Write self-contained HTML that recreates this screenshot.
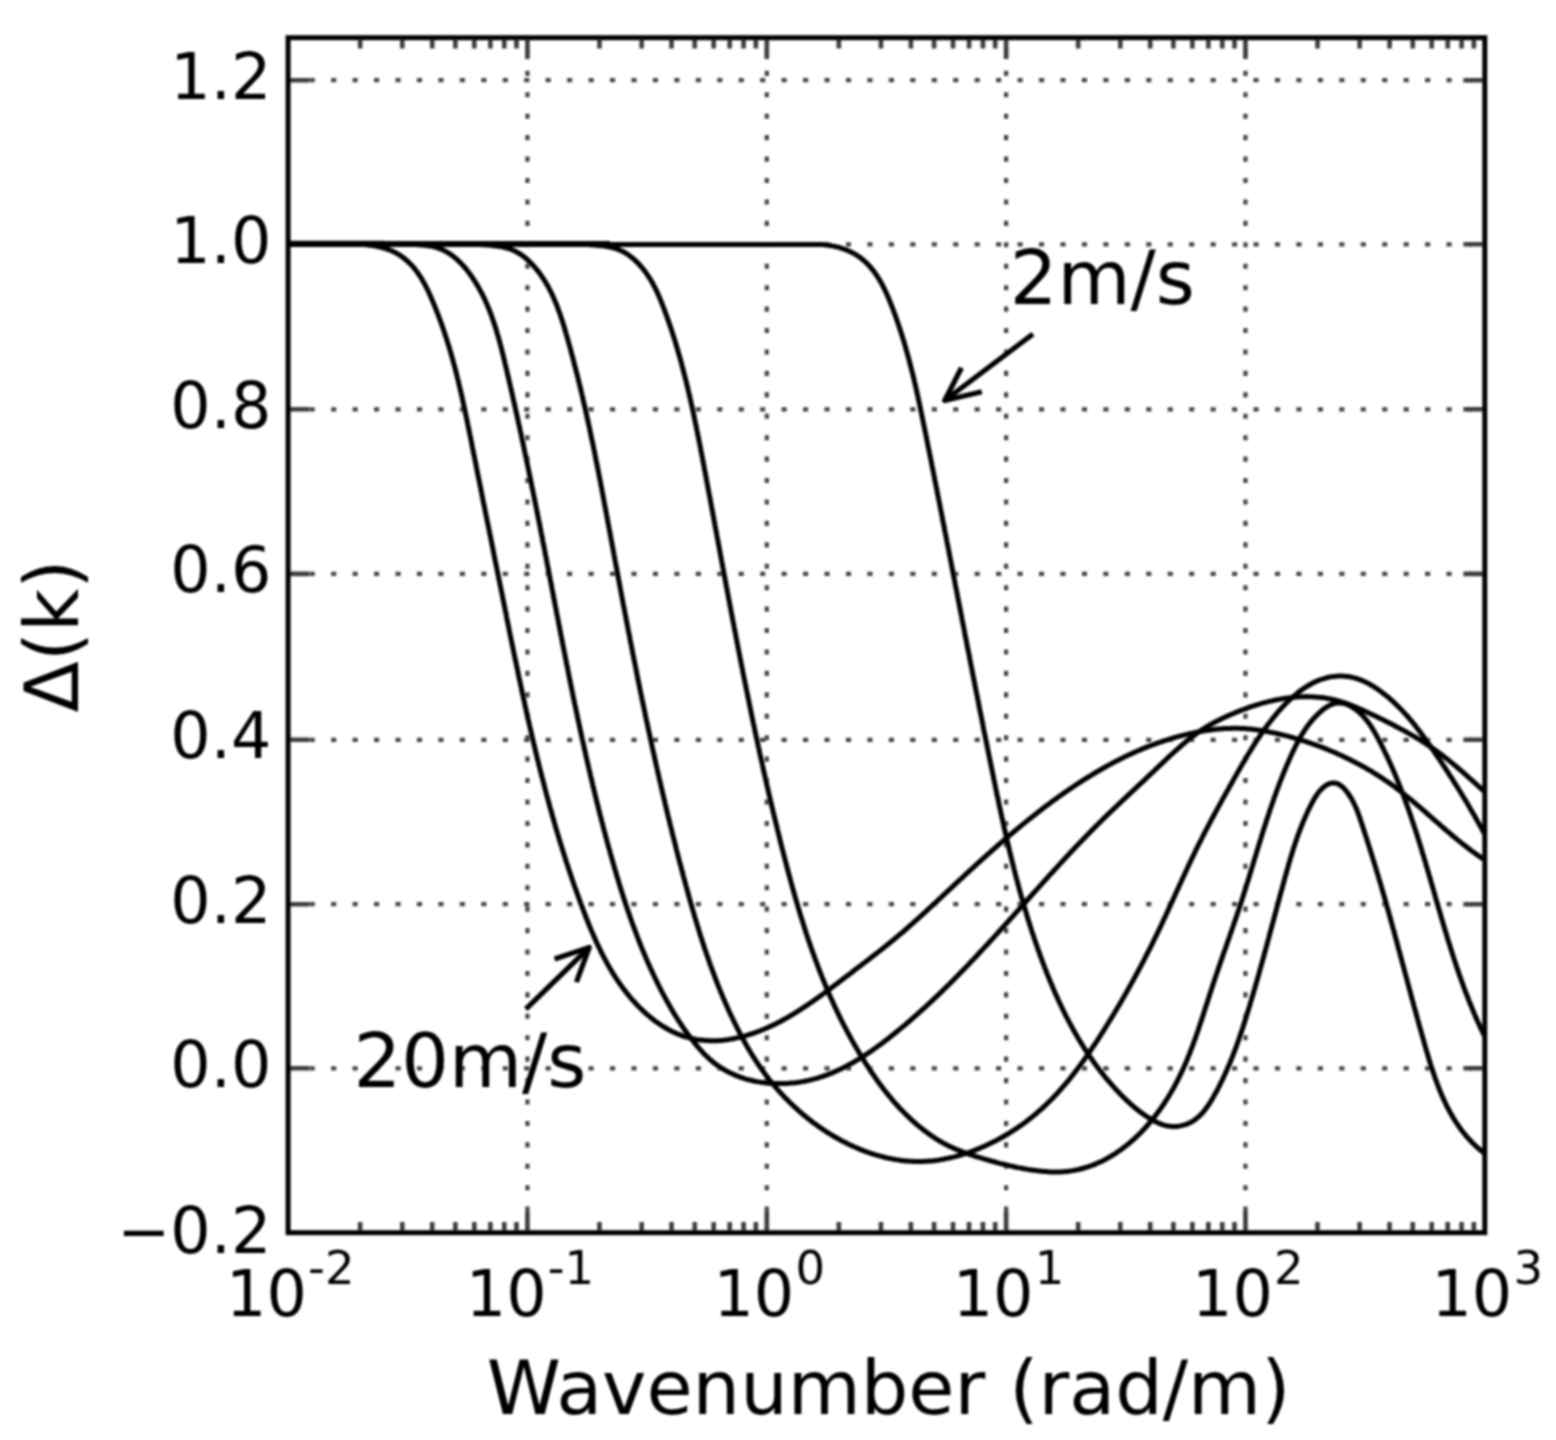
<!DOCTYPE html>
<html lang="en"><head><meta charset="utf-8"><title>&#916;(k) versus wavenumber</title>
<style>html,body{margin:0;padding:0;background:#fff}body{width:1556px;height:1440px;overflow:hidden}svg{display:block}text{font-family:"DejaVu Sans","Liberation Sans",sans-serif;fill:#000;stroke-linejoin:round}.tk{stroke:#000;stroke-width:0px}.an{stroke:#fff;stroke-width:0px}</style></head><body>
<svg width="1556" height="1440" viewBox="0 0 1556 1440">
<defs><filter id="soft" x="-2%" y="-2%" width="104%" height="104%"><feGaussianBlur stdDeviation="0.9"/></filter></defs>
<rect width="1556" height="1440" fill="#fff"/>
<g filter="url(#soft)">
<g stroke="#444" stroke-width="4.2" fill="none">
<g stroke-dasharray="5.1 16.35" stroke-dashoffset="-0.15">
<path d="M288.1 1068.3H1484.8"/>
<path d="M288.1 904.2H1484.8"/>
<path d="M288.1 739.8H1484.8"/>
<path d="M288.1 573.9H1484.8"/>
<path d="M288.1 409.3H1484.8"/>
<path d="M288.1 244.3H1484.8"/>
<path d="M288.1 80.2H1484.8"/>
</g>
<g stroke-dasharray="5.1 16.33" stroke-dashoffset="0.45">
<path d="M527.44 1232.7V37.7"/>
<path d="M766.78 1232.7V37.7"/>
<path d="M1006.12 1232.7V37.7"/>
<path d="M1245.46 1232.7V37.7"/>
</g>
</g>
<g stroke="#3c3c3c" stroke-width="4.6" fill="none">
<path d="M288.1 1068.3h21.4 M1484.8 1068.3h-21.4"/>
<path d="M288.1 904.2h21.4 M1484.8 904.2h-21.4"/>
<path d="M288.1 739.8h21.4 M1484.8 739.8h-21.4"/>
<path d="M288.1 573.9h21.4 M1484.8 573.9h-21.4"/>
<path d="M288.1 409.3h21.4 M1484.8 409.3h-21.4"/>
<path d="M288.1 244.3h21.4 M1484.8 244.3h-21.4"/>
<path d="M288.1 80.2h21.4 M1484.8 80.2h-21.4"/>
<path d="M360.15 1232.7v-10.7 M360.15 37.7v10.7"/>
<path d="M402.29 1232.7v-10.7 M402.29 37.7v10.7"/>
<path d="M432.2 1232.7v-10.7 M432.2 37.7v10.7"/>
<path d="M455.39 1232.7v-10.7 M455.39 37.7v10.7"/>
<path d="M474.34 1232.7v-10.7 M474.34 37.7v10.7"/>
<path d="M490.37 1232.7v-10.7 M490.37 37.7v10.7"/>
<path d="M504.25 1232.7v-10.7 M504.25 37.7v10.7"/>
<path d="M516.49 1232.7v-10.7 M516.49 37.7v10.7"/>
<path d="M527.44 1232.7v-21.4 M527.44 37.7v21.4"/>
<path d="M599.49 1232.7v-10.7 M599.49 37.7v10.7"/>
<path d="M641.63 1232.7v-10.7 M641.63 37.7v10.7"/>
<path d="M671.54 1232.7v-10.7 M671.54 37.7v10.7"/>
<path d="M694.73 1232.7v-10.7 M694.73 37.7v10.7"/>
<path d="M713.68 1232.7v-10.7 M713.68 37.7v10.7"/>
<path d="M729.71 1232.7v-10.7 M729.71 37.7v10.7"/>
<path d="M743.59 1232.7v-10.7 M743.59 37.7v10.7"/>
<path d="M755.83 1232.7v-10.7 M755.83 37.7v10.7"/>
<path d="M766.78 1232.7v-21.4 M766.78 37.7v21.4"/>
<path d="M838.83 1232.7v-10.7 M838.83 37.7v10.7"/>
<path d="M880.97 1232.7v-10.7 M880.97 37.7v10.7"/>
<path d="M910.88 1232.7v-10.7 M910.88 37.7v10.7"/>
<path d="M934.07 1232.7v-10.7 M934.07 37.7v10.7"/>
<path d="M953.02 1232.7v-10.7 M953.02 37.7v10.7"/>
<path d="M969.05 1232.7v-10.7 M969.05 37.7v10.7"/>
<path d="M982.93 1232.7v-10.7 M982.93 37.7v10.7"/>
<path d="M995.17 1232.7v-10.7 M995.17 37.7v10.7"/>
<path d="M1006.12 1232.7v-21.4 M1006.12 37.7v21.4"/>
<path d="M1078.17 1232.7v-10.7 M1078.17 37.7v10.7"/>
<path d="M1120.31 1232.7v-10.7 M1120.31 37.7v10.7"/>
<path d="M1150.22 1232.7v-10.7 M1150.22 37.7v10.7"/>
<path d="M1173.41 1232.7v-10.7 M1173.41 37.7v10.7"/>
<path d="M1192.36 1232.7v-10.7 M1192.36 37.7v10.7"/>
<path d="M1208.39 1232.7v-10.7 M1208.39 37.7v10.7"/>
<path d="M1222.27 1232.7v-10.7 M1222.27 37.7v10.7"/>
<path d="M1234.51 1232.7v-10.7 M1234.51 37.7v10.7"/>
<path d="M1245.46 1232.7v-21.4 M1245.46 37.7v21.4"/>
<path d="M1317.51 1232.7v-10.7 M1317.51 37.7v10.7"/>
<path d="M1359.65 1232.7v-10.7 M1359.65 37.7v10.7"/>
<path d="M1389.56 1232.7v-10.7 M1389.56 37.7v10.7"/>
<path d="M1412.75 1232.7v-10.7 M1412.75 37.7v10.7"/>
<path d="M1431.7 1232.7v-10.7 M1431.7 37.7v10.7"/>
<path d="M1447.73 1232.7v-10.7 M1447.73 37.7v10.7"/>
<path d="M1461.61 1232.7v-10.7 M1461.61 37.7v10.7"/>
<path d="M1473.85 1232.7v-10.7 M1473.85 37.7v10.7"/>
</g>
<g stroke="#000" stroke-width="5" fill="none" stroke-linejoin="round" stroke-linecap="butt" clip-path="none">
<path d="M288.1 243.9H610" stroke-width="5.6"/>
<path d="M288.1 243.9H500" stroke-width="6"/>
<path d="M288.1 243.9H385" stroke-width="6.4"/>
<path d="M288.1,244.5 290.1,244.5 292.1,244.5 294.1,244.5 296.1,244.5 298.1,244.5 300,244.5 302,244.5 304,244.5 306,244.5 308,244.5 310,244.5 312,244.5 314,244.5 316,244.5 318,244.5 320,244.5 322,244.5 324,244.5 326,244.5 328,244.5 330,244.5 332,244.5 334,244.5 336,244.5 338,244.5 340,244.5 342,244.5 344,244.5 346.1,244.5 348.1,244.5 350.1,244.5 352.1,244.5 354.1,244.5 356.2,244.5 358.2,244.5 360.2,244.5 362.3,244.5 364.3,244.6 366.3,244.8 368.3,245.1 370.3,245.3 372.3,245.6 374.3,245.9 376.3,246.2 378.2,246.6 380.2,247.1 382.1,247.5 384,248.1 385.9,248.6 387.7,249.3 389.6,250 391.4,250.7 393.1,251.5 394.9,252.3 396.6,253.3 398.3,254.2 399.9,255.3 401.5,256.4 403.1,257.5 404.6,258.7 406.1,260 407.6,261.3 409,262.6 410.4,264 411.8,265.4 413.1,266.9 414.4,268.4 415.6,270 416.8,271.5 418,273.2 419.1,274.8 420.2,276.5 421.3,278.2 422.3,279.9 423.3,281.7 424.3,283.5 425.3,285.3 426.2,287.1 427.1,288.9 428,290.8 428.9,292.6 429.7,294.5 430.6,296.4 431.4,298.3 432.2,300.2 433,302.1 433.8,304 434.6,305.8 435.3,307.7 436.1,309.6 436.8,311.5 437.6,313.4 438.3,315.3 439,317.2 439.7,319.1 440.4,321 441.1,322.9 441.8,324.8 442.5,326.7 443.1,328.6 443.8,330.5 444.4,332.4 445,334.4 445.7,336.3 446.3,338.2 446.9,340.1 447.5,342 448.1,343.9 448.7,345.8 449.3,347.7 449.8,349.6 450.4,351.6 451,353.5 451.5,355.4 452,357.3 452.6,359.2 453.1,361.2 453.6,363.1 454.2,365 454.7,366.9 455.2,368.8 455.7,370.8 456.2,372.7 456.7,374.6 457.1,376.5 457.6,378.5 458.1,380.4 458.6,382.3 459,384.3 459.5,386.2 459.9,388.1 460.4,390 460.8,392 461.3,393.9 461.7,395.9 462.2,397.8 462.6,399.7 463,401.7 463.4,403.6 463.9,405.5 464.3,407.5 464.7,409.4 465.1,411.4 465.5,413.3 465.9,415.2 466.3,417.2 466.7,419.1 467.1,421.1 467.5,423 467.9,424.9 468.3,426.9 468.7,428.8 469.1,430.8 469.5,432.7 469.9,434.7 470.3,436.6 470.7,438.6 471.1,440.5 471.5,442.5 471.9,444.4 472.2,446.4 472.6,448.3 473,450.3 473.4,452.2 473.8,454.2 474.2,456.1 474.6,458.1 475,460.1 475.4,462 475.8,464 476.2,465.9 476.5,467.9 476.9,469.8 477.3,471.8 477.7,473.8 478.1,475.7 478.5,477.7 478.9,479.6 479.3,481.6 479.7,483.6 480.1,485.5 480.5,487.5 480.9,489.4 481.3,491.4 481.7,493.4 482,495.3 482.4,497.3 482.8,499.3 483.2,501.2 483.6,503.2 484,505.1 484.4,507.1 484.8,509.1 485.2,511 485.6,513 486,515 486.4,516.9 486.8,518.9 487.2,520.9 487.6,522.8 488,524.8 488.4,526.8 488.8,528.7 489.2,530.7 489.6,532.7 490,534.6 490.4,536.6 490.8,538.6 491.2,540.5 491.6,542.5 492,544.5 492.4,546.4 492.8,548.4 493.2,550.4 493.5,552.3 493.9,554.3 494.3,556.3 494.7,558.2 495.1,560.2 495.5,562.2 495.9,564.1 496.3,566.1 496.7,568.1 497.1,570 497.5,572 497.9,574 498.3,575.9 498.7,577.9 499.1,579.9 499.5,581.8 499.9,583.8 500.3,585.8 500.7,587.7 501.1,589.7 501.5,591.7 501.9,593.6 502.3,595.6 502.7,597.6 503.1,599.5 503.5,601.5 503.9,603.5 504.3,605.4 504.7,607.4 505.1,609.4 505.5,611.3 505.9,613.3 506.3,615.2 506.6,617.2 507,619.2 507.4,621.1 507.8,623.1 508.2,625.1 508.6,627 509,629 509.4,630.9 509.8,632.9 510.2,634.9 510.6,636.8 511,638.8 511.4,640.7 511.8,642.7 512.2,644.7 512.6,646.6 513,648.6 513.4,650.5 513.8,652.5 514.2,654.4 514.6,656.4 515,658.4 515.5,660.3 515.9,662.3 516.3,664.2 516.7,666.2 517.1,668.1 517.5,670.1 517.9,672 518.3,674 518.7,675.9 519.1,677.9 519.5,679.9 520,681.8 520.4,683.8 520.8,685.7 521.2,687.7 521.6,689.6 522,691.6 522.5,693.5 522.9,695.5 523.3,697.4 523.7,699.4 524.2,701.3 524.6,703.3 525,705.2 525.4,707.2 525.9,709.1 526.3,711 526.7,713 527.2,714.9 527.6,716.9 528,718.8 528.5,720.8 528.9,722.7 529.4,724.7 529.8,726.6 530.3,728.5 530.7,730.5 531.2,732.4 531.6,734.4 532.1,736.3 532.5,738.3 533,740.2 533.4,742.1 533.9,744.1 534.3,746 534.8,747.9 535.3,749.9 535.7,751.8 536.2,753.8 536.7,755.7 537.1,757.6 537.6,759.6 538.1,761.5 538.6,763.4 539,765.4 539.5,767.3 540,769.2 540.5,771.2 541,773.1 541.5,775 542,777 542.5,778.9 543,780.8 543.5,782.7 544,784.7 544.5,786.6 545,788.5 545.5,790.5 546,792.4 546.5,794.3 547,796.2 547.5,798.2 548.1,800.1 548.6,802 549.1,803.9 549.6,805.9 550.2,807.8 550.7,809.7 551.2,811.6 551.8,813.5 552.3,815.5 552.9,817.4 553.4,819.3 554,821.2 554.5,823.1 555.1,825.1 555.6,827 556.2,828.9 556.8,830.8 557.3,832.7 557.9,834.6 558.5,836.5 559,838.5 559.6,840.4 560.2,842.3 560.8,844.2 561.4,846.1 562,848 562.6,849.9 563.2,851.8 563.8,853.7 564.4,855.6 565,857.5 565.6,859.5 566.2,861.4 566.8,863.3 567.5,865.2 568.1,867.1 568.7,869 569.3,870.9 570,872.8 570.6,874.7 571.3,876.6 571.9,878.5 572.6,880.4 573.2,882.3 573.9,884.2 574.5,886.1 575.2,888 575.9,889.9 576.5,891.7 577.2,893.6 577.9,895.5 578.6,897.4 579.3,899.3 580,901.2 580.6,903.1 581.3,905 582.1,906.9 582.8,908.8 583.5,910.7 584.2,912.5 584.9,914.4 585.6,916.3 586.4,918.2 587.1,920.1 587.9,921.9 588.6,923.8 589.4,925.7 590.1,927.5 590.9,929.4 591.7,931.2 592.5,933.1 593.3,934.9 594.1,936.8 594.9,938.6 595.7,940.5 596.5,942.3 597.4,944.1 598.2,945.9 599.1,947.7 600,949.5 600.8,951.3 601.7,953.1 602.6,954.9 603.6,956.7 604.5,958.5 605.4,960.2 606.4,962 607.3,963.7 608.3,965.5 609.3,967.2 610.3,968.9 611.3,970.6 612.3,972.3 613.4,974 614.4,975.7 615.5,977.4 616.6,979 617.7,980.7 618.8,982.3 620,984 621.1,985.6 622.3,987.2 623.5,988.8 624.7,990.4 625.9,991.9 627.1,993.5 628.4,995 629.6,996.6 630.9,998.1 632.2,999.6 633.5,1001.1 634.9,1002.5 636.2,1004 637.6,1005.5 639,1006.9 640.4,1008.3 641.9,1009.7 643.3,1011.1 644.8,1012.5 646.3,1013.8 647.8,1015.1 649.4,1016.4 650.9,1017.7 652.5,1019 654.1,1020.2 655.7,1021.4 657.3,1022.6 659,1023.7 660.6,1024.8 662.3,1025.9 664,1027 665.7,1028 667.5,1029 669.2,1030 671,1030.9 672.8,1031.8 674.5,1032.6 676.4,1033.4 678.2,1034.2 680,1034.9 681.9,1035.6 683.8,1036.3 685.7,1036.9 687.6,1037.4 689.5,1037.9 691.4,1038.4 693.4,1038.8 695.4,1039.2 697.3,1039.6 699.3,1039.9 701.3,1040.1 703.3,1040.3 705.3,1040.5 707.3,1040.6 709.3,1040.7 711.3,1040.8 713.3,1040.8 715.3,1040.7 717.3,1040.7 719.3,1040.5 721.3,1040.4 723.4,1040.2 725.4,1039.9 727.3,1039.7 729.3,1039.4 731.3,1039 733.3,1038.7 735.3,1038.3 737.2,1037.8 739.2,1037.4 741.1,1036.9 743.1,1036.4 745,1035.9 746.9,1035.3 748.8,1034.7 750.7,1034.1 752.6,1033.5 754.5,1032.9 756.4,1032.2 758.2,1031.5 760.1,1030.8 761.9,1030 763.8,1029.3 765.6,1028.5 767.4,1027.7 769.2,1026.9 771,1026.1 772.8,1025.2 774.6,1024.4 776.4,1023.5 778.1,1022.6 779.9,1021.7 781.7,1020.7 783.4,1019.8 785.2,1018.8 786.9,1017.8 788.6,1016.8 790.3,1015.8 792.1,1014.8 793.8,1013.8 795.5,1012.7 797.2,1011.7 798.9,1010.6 800.5,1009.5 802.2,1008.4 803.9,1007.3 805.6,1006.2 807.2,1005.1 808.9,1004 810.6,1002.8 812.2,1001.7 813.9,1000.6 815.5,999.4 817.1,998.2 818.8,997.1 820.4,995.9 822,994.7 823.7,993.5 825.3,992.3 826.9,991.1 828.5,989.9 830.1,988.7 831.8,987.5 833.4,986.3 835,985.1 836.6,983.9 838.2,982.7 839.8,981.4 841.4,980.2 843,979 844.6,977.8 846.2,976.6 847.8,975.4 849.4,974.2 851,973 852.6,971.8 854.1,970.5 855.7,969.3 857.3,968.1 858.9,966.9 860.5,965.7 862.1,964.5 863.7,963.3 865.2,962.1 866.8,960.9 868.4,959.7 870,958.5 871.5,957.2 873.1,956 874.7,954.8 876.3,953.6 877.8,952.4 879.4,951.1 880.9,949.9 882.5,948.7 884.1,947.4 885.6,946.2 887.2,945 888.7,943.7 890.2,942.5 891.8,941.2 893.3,939.9 894.9,938.7 896.4,937.4 897.9,936.1 899.4,934.8 901,933.6 902.5,932.3 904,931 905.5,929.7 907,928.3 908.5,927 910,925.7 911.5,924.4 913,923.1 914.5,921.7 916,920.4 917.5,919.1 919,917.7 920.5,916.4 922,915 923.5,913.7 924.9,912.3 926.4,911 927.9,909.6 929.4,908.2 930.9,906.9 932.3,905.5 933.8,904.1 935.3,902.8 936.8,901.4 938.2,900 939.7,898.7 941.2,897.3 942.6,895.9 944.1,894.5 945.6,893.2 947,891.8 948.5,890.4 950,889.1 951.4,887.7 952.9,886.3 954.4,884.9 955.8,883.6 957.3,882.2 958.8,880.8 960.2,879.5 961.7,878.1 963.2,876.8 964.6,875.4 966.1,874 967.6,872.7 969,871.3 970.5,870 972,868.6 973.5,867.3 974.9,865.9 976.4,864.6 977.9,863.2 979.4,861.9 980.8,860.6 982.3,859.2 983.8,857.9 985.3,856.6 986.8,855.2 988.3,853.9 989.8,852.6 991.2,851.3 992.7,849.9 994.2,848.6 995.7,847.3 997.2,846 998.7,844.7 1000.2,843.4 1001.7,842.1 1003.2,840.8 1004.8,839.5 1006.3,838.2 1007.8,836.9 1009.3,835.6 1010.8,834.3 1012.3,833 1013.9,831.7 1015.4,830.5 1016.9,829.2 1018.5,827.9 1020,826.7 1021.5,825.4 1023.1,824.1 1024.6,822.9 1026.2,821.6 1027.7,820.4 1029.3,819.1 1030.9,817.9 1032.4,816.6 1034,815.4 1035.6,814.2 1037.1,812.9 1038.7,811.7 1040.3,810.5 1041.9,809.3 1043.5,808 1045.1,806.8 1046.7,805.6 1048.3,804.4 1049.9,803.2 1051.5,802 1053.1,800.8 1054.8,799.6 1056.4,798.5 1058,797.3 1059.6,796.1 1061.3,795 1062.9,793.8 1064.6,792.6 1066.2,791.5 1067.9,790.4 1069.5,789.2 1071.2,788.1 1072.9,787 1074.5,785.9 1076.2,784.7 1077.9,783.6 1079.6,782.5 1081.3,781.5 1082.9,780.4 1084.6,779.3 1086.3,778.2 1088.1,777.2 1089.8,776.1 1091.5,775.1 1093.2,774 1094.9,773 1096.6,772 1098.4,771 1100.1,770 1101.8,769 1103.6,768 1105.3,767 1107.1,766 1108.8,765.1 1110.6,764.1 1112.4,763.2 1114.1,762.2 1115.9,761.3 1117.7,760.4 1119.5,759.5 1121.3,758.6 1123,757.7 1124.8,756.8 1126.6,756 1128.4,755.1 1130.3,754.3 1132.1,753.4 1133.9,752.6 1135.7,751.8 1137.5,751 1139.4,750.2 1141.2,749.4 1143,748.6 1144.9,747.9 1146.7,747.1 1148.6,746.4 1150.4,745.7 1152.3,745 1154.2,744.3 1156,743.6 1157.9,742.9 1159.8,742.3 1161.7,741.6 1163.6,741 1165.5,740.4 1167.4,739.8 1169.3,739.2 1171.2,738.6 1173.1,738 1175,737.4 1176.9,736.9 1178.8,736.4 1180.8,735.9 1182.7,735.4 1184.6,734.9 1186.6,734.4 1188.5,734 1190.5,733.5 1192.5,733.1 1194.4,732.7 1196.4,732.3 1198.4,731.9 1200.3,731.5 1202.3,731.2 1204.3,730.9 1206.3,730.5 1208.3,730.3 1210.2,730 1212.2,729.7 1214.2,729.5 1216.2,729.3 1218.2,729.1 1220.2,728.9 1222.2,728.7 1224.2,728.6 1226.2,728.5 1228.2,728.4 1230.2,728.4 1232.2,728.3 1234.2,728.3 1236.2,728.3 1238.2,728.3 1240.2,728.4 1242.2,728.5 1244.2,728.6 1246.2,728.7 1248.2,728.9 1250.1,729.1 1252.1,729.3 1254.1,729.5 1256.1,729.8 1258.1,730 1260.1,730.3 1262,730.6 1264,731 1266,731.3 1267.9,731.7 1269.9,732.1 1271.9,732.5 1273.8,732.9 1275.8,733.3 1277.7,733.7 1279.7,734.2 1281.6,734.7 1283.6,735.1 1285.5,735.6 1287.5,736.1 1289.4,736.6 1291.3,737.2 1293.3,737.7 1295.2,738.3 1297.1,738.8 1299,739.4 1300.9,740 1302.8,740.6 1304.7,741.2 1306.6,741.8 1308.5,742.5 1310.4,743.1 1312.3,743.8 1314.2,744.4 1316.1,745.1 1318,745.8 1319.9,746.5 1321.7,747.2 1323.6,747.9 1325.4,748.7 1327.3,749.4 1329.2,750.2 1331,751 1332.8,751.7 1334.7,752.5 1336.5,753.3 1338.3,754.2 1340.2,755 1342,755.8 1343.8,756.7 1345.6,757.5 1347.4,758.4 1349.2,759.3 1351,760.2 1352.8,761.1 1354.5,762 1356.3,762.9 1358.1,763.9 1359.8,764.8 1361.6,765.8 1363.4,766.7 1365.1,767.7 1366.8,768.7 1368.6,769.7 1370.3,770.7 1372,771.7 1373.7,772.8 1375.4,773.8 1377.1,774.9 1378.8,776 1380.5,777 1382.1,778.1 1383.8,779.2 1385.4,780.4 1387.1,781.5 1388.7,782.6 1390.4,783.8 1392,784.9 1393.6,786.1 1395.2,787.3 1396.8,788.5 1398.4,789.7 1400,790.9 1401.5,792.1 1403.1,793.4 1404.7,794.6 1406.2,795.9 1407.8,797.1 1409.3,798.4 1410.9,799.7 1412.4,800.9 1413.9,802.2 1415.5,803.5 1417,804.8 1418.5,806.1 1420,807.4 1421.5,808.7 1423,810 1424.6,811.3 1426.1,812.7 1427.6,814 1429.1,815.3 1430.6,816.6 1432.1,817.9 1433.6,819.3 1435.1,820.6 1436.6,821.9 1438.1,823.2 1439.6,824.5 1441.1,825.9 1442.6,827.2 1444.1,828.5 1445.7,829.8 1447.2,831.1 1448.7,832.4 1450.2,833.7 1451.7,835 1453.3,836.3 1454.8,837.6 1456.4,838.8 1457.9,840.1 1459.5,841.4 1461,842.6 1462.6,843.9 1464.1,845.1 1465.7,846.3 1467.3,847.6 1468.9,848.8 1470.5,850 1472.1,851.2 1473.7,852.3 1475.3,853.5 1476.9,854.7 1478.6,855.8 1480.2,856.9 1481.9,858.1 1483.6,859.2"/>
<path d="M290.1,244.5 292.1,244.5 294.1,244.5 296.1,244.5 298.1,244.5 300.1,244.5 302.1,244.5 304.1,244.5 306.1,244.5 308.1,244.5 310.1,244.5 312.1,244.5 314.1,244.5 316.1,244.5 318.1,244.5 320.1,244.5 322.1,244.5 324.1,244.5 326.1,244.5 328.1,244.5 330.1,244.5 332.1,244.5 334.1,244.5 336.1,244.5 338.1,244.5 340.1,244.5 342.1,244.5 344.1,244.5 346.1,244.5 348.1,244.5 350.1,244.5 352.1,244.5 354.1,244.5 356.1,244.5 358.1,244.5 360.1,244.5 362.1,244.5 364.1,244.5 366.1,244.5 368.1,244.5 370,244.5 372,244.5 374,244.5 376,244.5 378,244.5 380,244.5 382,244.5 384,244.5 386,244.5 388,244.5 390,244.5 392,244.5 394,244.5 396,244.5 398,244.5 400.1,244.5 402.1,244.5 404.1,244.5 406.1,244.5 408.1,244.5 410.1,244.5 412.1,244.5 414.2,244.6 416.2,244.6 418.2,244.8 420.2,244.9 422.3,245.1 424.3,245.3 426.3,245.5 428.4,245.7 430.4,246 432.3,246.4 434.3,246.9 436.2,247.4 438.1,248 439.9,248.6 441.7,249.4 443.5,250.2 445.2,251.1 446.9,252 448.6,253.1 450.2,254.1 451.8,255.3 453.4,256.4 454.9,257.7 456.4,258.9 457.9,260.3 459.3,261.6 460.7,263.1 462.1,264.5 463.5,266 464.8,267.5 466.1,269 467.3,270.6 468.6,272.2 469.8,273.8 470.9,275.5 472.1,277.1 473.2,278.8 474.3,280.5 475.4,282.2 476.4,283.9 477.5,285.6 478.5,287.3 479.5,289.1 480.4,290.8 481.3,292.6 482.3,294.3 483.1,296.1 484,297.9 484.9,299.7 485.7,301.5 486.5,303.3 487.3,305.2 488.1,307 488.8,308.8 489.6,310.7 490.3,312.5 491,314.4 491.7,316.3 492.3,318.1 493,320 493.6,321.9 494.3,323.8 494.9,325.7 495.5,327.6 496.1,329.5 496.7,331.4 497.2,333.4 497.8,335.3 498.4,337.2 498.9,339.1 499.4,341.1 500,343 500.5,345 501,346.9 501.5,348.9 502,350.8 502.5,352.8 503,354.7 503.4,356.7 503.9,358.6 504.4,360.6 504.8,362.5 505.3,364.5 505.8,366.5 506.2,368.4 506.7,370.4 507.2,372.4 507.6,374.3 508.1,376.3 508.5,378.2 509,380.2 509.4,382.1 509.9,384.1 510.3,386.1 510.8,388 511.2,390 511.7,391.9 512.1,393.9 512.6,395.9 513,397.8 513.4,399.8 513.9,401.7 514.3,403.7 514.8,405.7 515.2,407.6 515.6,409.6 516.1,411.5 516.5,413.5 516.9,415.4 517.4,417.4 517.8,419.4 518.2,421.3 518.6,423.3 519.1,425.2 519.5,427.2 519.9,429.1 520.3,431.1 520.8,433.1 521.2,435 521.6,437 522,438.9 522.4,440.9 522.9,442.8 523.3,444.8 523.7,446.8 524.1,448.7 524.5,450.7 524.9,452.6 525.3,454.6 525.8,456.5 526.2,458.5 526.6,460.5 527,462.4 527.4,464.4 527.8,466.3 528.2,468.3 528.6,470.2 529,472.2 529.4,474.2 529.8,476.1 530.2,478.1 530.6,480 531,482 531.4,483.9 531.8,485.9 532.2,487.9 532.6,489.8 533,491.8 533.4,493.7 533.8,495.7 534.2,497.6 534.6,499.6 535,501.5 535.4,503.5 535.8,505.5 536.2,507.4 536.6,509.4 537,511.3 537.3,513.3 537.7,515.2 538.1,517.2 538.5,519.2 538.9,521.1 539.3,523.1 539.7,525 540.1,527 540.4,529 540.8,530.9 541.2,532.9 541.6,534.8 542,536.8 542.4,538.7 542.7,540.7 543.1,542.7 543.5,544.6 543.9,546.6 544.3,548.5 544.7,550.5 545,552.5 545.4,554.4 545.8,556.4 546.2,558.3 546.6,560.3 546.9,562.2 547.3,564.2 547.7,566.2 548.1,568.1 548.4,570.1 548.8,572 549.2,574 549.6,576 550,577.9 550.3,579.9 550.7,581.8 551.1,583.8 551.5,585.8 551.8,587.7 552.2,589.7 552.6,591.6 553,593.6 553.3,595.6 553.7,597.5 554.1,599.5 554.5,601.5 554.9,603.4 555.2,605.4 555.6,607.3 556,609.3 556.4,611.3 556.7,613.2 557.1,615.2 557.5,617.1 557.9,619.1 558.3,621.1 558.6,623 559,625 559.4,626.9 559.8,628.9 560.2,630.9 560.5,632.8 560.9,634.8 561.3,636.7 561.7,638.7 562.1,640.7 562.4,642.6 562.8,644.6 563.2,646.5 563.6,648.5 564,650.5 564.4,652.4 564.8,654.4 565.1,656.3 565.5,658.3 565.9,660.3 566.3,662.2 566.7,664.2 567.1,666.1 567.5,668.1 567.9,670.1 568.3,672 568.6,674 569,675.9 569.4,677.9 569.8,679.8 570.2,681.8 570.6,683.8 571,685.7 571.4,687.7 571.8,689.6 572.2,691.6 572.6,693.5 573,695.5 573.4,697.5 573.8,699.4 574.2,701.4 574.6,703.3 575,705.3 575.5,707.2 575.9,709.2 576.3,711.2 576.7,713.1 577.1,715.1 577.5,717 577.9,719 578.3,720.9 578.8,722.9 579.2,724.8 579.6,726.8 580,728.8 580.4,730.7 580.9,732.7 581.3,734.6 581.7,736.6 582.1,738.5 582.6,740.5 583,742.4 583.4,744.4 583.9,746.3 584.3,748.3 584.7,750.2 585.2,752.2 585.6,754.1 586,756.1 586.5,758 586.9,760 587.4,761.9 587.8,763.9 588.3,765.8 588.7,767.8 589.2,769.7 589.6,771.7 590.1,773.6 590.5,775.6 591,777.5 591.4,779.5 591.9,781.4 592.4,783.4 592.8,785.3 593.3,787.3 593.8,789.2 594.2,791.2 594.7,793.1 595.2,795 595.7,797 596.1,798.9 596.6,800.9 597.1,802.8 597.6,804.8 598.1,806.7 598.5,808.7 599,810.6 599.5,812.5 600,814.5 600.5,816.4 601,818.4 601.5,820.3 602,822.2 602.5,824.2 603,826.1 603.5,828.1 604,830 604.6,831.9 605.1,833.9 605.6,835.8 606.1,837.8 606.6,839.7 607.1,841.6 607.7,843.6 608.2,845.5 608.7,847.4 609.3,849.4 609.8,851.3 610.3,853.2 610.9,855.2 611.4,857.1 612,859 612.5,861 613.1,862.9 613.6,864.8 614.2,866.7 614.7,868.7 615.3,870.6 615.9,872.5 616.4,874.5 617,876.4 617.6,878.3 618.2,880.2 618.7,882.1 619.3,884.1 619.9,886 620.5,887.9 621.1,889.8 621.7,891.7 622.3,893.6 622.9,895.5 623.5,897.4 624.2,899.4 624.8,901.3 625.4,903.2 626,905.1 626.7,907 627.3,908.9 628,910.8 628.6,912.7 629.3,914.5 629.9,916.4 630.6,918.3 631.2,920.2 631.9,922.1 632.6,924 633.3,925.9 634,927.7 634.7,929.6 635.4,931.5 636.1,933.3 636.8,935.2 637.5,937.1 638.2,938.9 638.9,940.8 639.7,942.7 640.4,944.5 641.1,946.4 641.9,948.2 642.6,950 643.4,951.9 644.2,953.7 645,955.6 645.7,957.4 646.5,959.2 647.3,961.1 648.1,962.9 648.9,964.7 649.7,966.5 650.5,968.3 651.4,970.1 652.2,971.9 653,973.7 653.9,975.5 654.7,977.3 655.6,979.1 656.5,980.9 657.3,982.7 658.2,984.5 659.1,986.3 660,988 660.9,989.8 661.8,991.6 662.7,993.3 663.7,995.1 664.6,996.8 665.5,998.6 666.5,1000.3 667.4,1002.1 668.4,1003.8 669.4,1005.5 670.4,1007.3 671.4,1009 672.4,1010.7 673.4,1012.4 674.4,1014.1 675.5,1015.8 676.5,1017.5 677.6,1019.2 678.7,1020.9 679.8,1022.5 680.9,1024.2 682,1025.9 683.1,1027.5 684.2,1029.2 685.4,1030.8 686.6,1032.5 687.8,1034.1 689,1035.7 690.2,1037.3 691.4,1038.9 692.7,1040.5 693.9,1042.1 695.2,1043.7 696.5,1045.3 697.8,1046.8 699.1,1048.4 700.5,1049.9 701.9,1051.4 703.2,1052.9 704.7,1054.4 706.1,1055.8 707.6,1057.2 709,1058.6 710.5,1059.9 712.1,1061.2 713.6,1062.5 715.2,1063.7 716.8,1064.9 718.4,1066 720.1,1067.1 721.7,1068.2 723.4,1069.2 725.1,1070.2 726.9,1071.2 728.6,1072.1 730.4,1073 732.2,1073.8 734,1074.6 735.8,1075.4 737.7,1076.2 739.5,1076.9 741.4,1077.5 743.3,1078.2 745.2,1078.8 747.1,1079.3 749,1079.8 751,1080.3 752.9,1080.8 754.9,1081.2 756.8,1081.6 758.8,1081.9 760.8,1082.3 762.8,1082.5 764.7,1082.8 766.7,1083 768.7,1083.2 770.8,1083.4 772.8,1083.5 774.8,1083.6 776.8,1083.6 778.8,1083.6 780.8,1083.6 782.8,1083.6 784.9,1083.5 786.9,1083.4 788.9,1083.3 790.9,1083.1 792.9,1083 794.9,1082.7 796.9,1082.5 798.9,1082.2 800.9,1081.9 802.8,1081.5 804.8,1081.2 806.8,1080.8 808.7,1080.4 810.7,1079.9 812.6,1079.4 814.5,1078.9 816.4,1078.4 818.3,1077.8 820.2,1077.2 822.1,1076.6 824,1076 825.8,1075.3 827.7,1074.6 829.5,1073.9 831.4,1073.2 833.2,1072.4 835,1071.6 836.8,1070.8 838.6,1070 840.4,1069.2 842.2,1068.3 844,1067.4 845.7,1066.5 847.5,1065.6 849.2,1064.6 851,1063.7 852.7,1062.7 854.5,1061.7 856.2,1060.7 857.9,1059.7 859.6,1058.6 861.3,1057.6 863,1056.5 864.7,1055.4 866.4,1054.3 868,1053.2 869.7,1052.1 871.4,1051 873,1049.8 874.6,1048.6 876.3,1047.5 877.9,1046.3 879.5,1045.1 881.2,1043.9 882.8,1042.7 884.4,1041.5 886,1040.2 887.6,1039 889.2,1037.8 890.8,1036.5 892.3,1035.3 893.9,1034 895.5,1032.7 897,1031.5 898.6,1030.2 900.2,1028.9 901.7,1027.6 903.3,1026.4 904.8,1025.1 906.3,1023.8 907.9,1022.5 909.4,1021.2 910.9,1019.8 912.4,1018.5 913.9,1017.2 915.4,1015.9 916.9,1014.6 918.4,1013.2 919.9,1011.9 921.4,1010.5 922.9,1009.2 924.4,1007.9 925.9,1006.5 927.3,1005.1 928.8,1003.8 930.3,1002.4 931.7,1001.1 933.2,999.7 934.6,998.3 936.1,996.9 937.5,995.6 939,994.2 940.4,992.8 941.9,991.4 943.3,990 944.7,988.6 946.1,987.2 947.6,985.8 949,984.4 950.4,983 951.8,981.6 953.2,980.2 954.6,978.7 956,977.3 957.4,975.9 958.8,974.5 960.2,973 961.6,971.6 963,970.2 964.4,968.7 965.8,967.3 967.2,965.9 968.6,964.4 969.9,963 971.3,961.5 972.7,960.1 974.1,958.6 975.4,957.2 976.8,955.7 978.2,954.2 979.5,952.8 980.9,951.3 982.2,949.9 983.6,948.4 985,946.9 986.3,945.5 987.7,944 989,942.5 990.4,941.1 991.7,939.6 993.1,938.1 994.4,936.6 995.8,935.1 997.1,933.7 998.4,932.2 999.8,930.7 1001.1,929.2 1002.5,927.7 1003.8,926.3 1005.1,924.8 1006.5,923.3 1007.8,921.8 1009.2,920.3 1010.5,918.8 1011.8,917.4 1013.2,915.9 1014.5,914.4 1015.8,912.9 1017.2,911.4 1018.5,909.9 1019.8,908.4 1021.2,906.9 1022.5,905.4 1023.8,904 1025.2,902.5 1026.5,901 1027.8,899.5 1029.1,898 1030.5,896.5 1031.8,895 1033.1,893.5 1034.5,892 1035.8,890.6 1037.1,889.1 1038.5,887.6 1039.8,886.1 1041.2,884.6 1042.5,883.1 1043.8,881.6 1045.2,880.2 1046.5,878.7 1047.9,877.2 1049.2,875.7 1050.5,874.2 1051.9,872.8 1053.2,871.3 1054.6,869.8 1055.9,868.3 1057.3,866.9 1058.6,865.4 1060,863.9 1061.3,862.4 1062.7,861 1064,859.5 1065.4,858 1066.8,856.6 1068.1,855.1 1069.5,853.7 1070.8,852.2 1072.2,850.7 1073.6,849.3 1075,847.8 1076.3,846.4 1077.7,844.9 1079.1,843.5 1080.5,842.1 1081.8,840.6 1083.2,839.2 1084.6,837.7 1086,836.3 1087.4,834.9 1088.8,833.4 1090.2,832 1091.6,830.6 1093,829.2 1094.4,827.8 1095.8,826.3 1097.2,824.9 1098.6,823.5 1100.1,822.1 1101.5,820.7 1102.9,819.3 1104.3,817.9 1105.8,816.5 1107.2,815.1 1108.6,813.7 1110.1,812.3 1111.5,811 1113,809.6 1114.4,808.2 1115.9,806.8 1117.3,805.4 1118.8,804.1 1120.2,802.7 1121.7,801.3 1123.1,799.9 1124.6,798.6 1126.1,797.2 1127.5,795.8 1129,794.5 1130.4,793.1 1131.9,791.7 1133.4,790.3 1134.8,789 1136.3,787.6 1137.8,786.2 1139.2,784.9 1140.7,783.5 1142.2,782.1 1143.6,780.8 1145.1,779.4 1146.6,778 1148,776.6 1149.5,775.2 1150.9,773.9 1152.4,772.5 1153.9,771.1 1155.3,769.7 1156.8,768.3 1158.2,766.9 1159.7,765.5 1161.2,764.2 1162.6,762.8 1164.1,761.4 1165.5,760 1167,758.6 1168.5,757.2 1169.9,755.9 1171.4,754.5 1172.9,753.1 1174.4,751.8 1175.9,750.4 1177.4,749.1 1178.9,747.8 1180.4,746.5 1181.9,745.2 1183.4,743.9 1184.9,742.6 1186.4,741.3 1188,740.1 1189.5,738.8 1191.1,737.6 1192.7,736.4 1194.3,735.2 1195.8,734 1197.5,732.9 1199.1,731.7 1200.7,730.6 1202.3,729.5 1204,728.5 1205.7,727.4 1207.3,726.4 1209,725.4 1210.7,724.4 1212.5,723.5 1214.2,722.5 1215.9,721.6 1217.7,720.7 1219.5,719.8 1221.3,718.9 1223,718.1 1224.8,717.2 1226.7,716.4 1228.5,715.6 1230.3,714.8 1232.1,714 1234,713.2 1235.9,712.4 1237.7,711.7 1239.6,710.9 1241.5,710.2 1243.4,709.5 1245.3,708.8 1247.2,708.1 1249.1,707.4 1251,706.7 1252.9,706.1 1254.8,705.5 1256.8,704.9 1258.7,704.3 1260.7,703.7 1262.6,703.2 1264.6,702.6 1266.5,702.1 1268.5,701.6 1270.4,701.1 1272.4,700.7 1274.4,700.2 1276.4,699.8 1278.3,699.5 1280.3,699.1 1282.3,698.7 1284.3,698.4 1286.3,698.1 1288.3,697.9 1290.2,697.6 1292.2,697.4 1294.2,697.2 1296.2,697 1298.2,696.9 1300.2,696.8 1302.2,696.7 1304.1,696.7 1306.1,696.6 1308.1,696.7 1310.1,696.7 1312.1,696.8 1314,696.9 1316,697 1318,697.2 1319.9,697.4 1321.9,697.6 1323.9,697.8 1325.8,698.1 1327.8,698.5 1329.7,698.8 1331.7,699.2 1333.6,699.7 1335.5,700.2 1337.4,700.7 1339.4,701.2 1341.3,701.8 1343.2,702.4 1345.1,703 1347,703.7 1348.9,704.4 1350.7,705.1 1352.6,705.9 1354.5,706.6 1356.3,707.4 1358.2,708.2 1360.1,709 1361.9,709.8 1363.7,710.6 1365.6,711.5 1367.4,712.3 1369.2,713.2 1371.1,714 1372.9,714.9 1374.7,715.8 1376.5,716.6 1378.3,717.5 1380.1,718.4 1381.8,719.3 1383.6,720.1 1385.4,721 1387.2,721.9 1389,722.8 1390.7,723.7 1392.5,724.6 1394.3,725.5 1396,726.5 1397.8,727.4 1399.6,728.3 1401.3,729.3 1403.1,730.2 1404.8,731.2 1406.6,732.1 1408.3,733.1 1410.1,734.1 1411.8,735.1 1413.6,736.1 1415.3,737.1 1417,738.2 1418.7,739.2 1420.4,740.2 1422.1,741.3 1423.8,742.4 1425.5,743.5 1427.2,744.6 1428.8,745.7 1430.5,746.8 1432.2,747.9 1433.8,749 1435.4,750.2 1437.1,751.4 1438.7,752.6 1440.3,753.7 1441.9,754.9 1443.4,756.2 1445,757.4 1446.6,758.6 1448.2,759.9 1449.7,761.1 1451.3,762.4 1452.8,763.7 1454.3,764.9 1455.9,766.2 1457.4,767.5 1458.9,768.8 1460.4,770.1 1461.9,771.4 1463.4,772.7 1464.9,774.1 1466.4,775.4 1467.9,776.7 1469.4,778.1 1470.9,779.4 1472.4,780.7 1473.9,782.1 1475.4,783.4 1476.9,784.7 1478.3,786.1 1479.8,787.4 1481.3,788.8 1482.8,790.1 1484.3,791.5 1484.7,791.9"/>
<path d="M290.1,244.5 292.1,244.5 294.1,244.5 296.1,244.5 298.1,244.5 300.1,244.5 302.1,244.5 304.1,244.5 306.2,244.5 308.2,244.5 310.2,244.5 312.2,244.5 314.2,244.5 316.2,244.5 318.2,244.5 320.2,244.5 322.2,244.5 324.2,244.5 326.2,244.5 328.2,244.5 330.2,244.5 332.2,244.5 334.2,244.5 336.2,244.5 338.2,244.5 340.2,244.5 342.2,244.5 344.2,244.5 346.2,244.5 348.2,244.5 350.2,244.5 352.2,244.5 354.2,244.5 356.1,244.5 358.1,244.5 360.1,244.5 362.1,244.5 364.1,244.5 366.1,244.5 368.1,244.5 370.1,244.5 372.1,244.5 374.1,244.5 376.1,244.5 378.1,244.5 380.1,244.5 382.1,244.5 384.1,244.5 386,244.5 388,244.5 390,244.5 392,244.5 394,244.5 396,244.5 398,244.5 400,244.5 402,244.5 404,244.5 406,244.5 408,244.5 410,244.5 412,244.5 414,244.5 416,244.5 418,244.5 420,244.5 422,244.5 424,244.5 426,244.5 428,244.5 430,244.5 432,244.5 434,244.5 436,244.5 438,244.5 440,244.5 442,244.5 444,244.5 446,244.5 448,244.5 450,244.5 452,244.5 454,244.5 456.1,244.5 458.1,244.5 460.1,244.5 462.1,244.5 464.1,244.5 466.1,244.5 468.1,244.5 470.2,244.5 472.2,244.5 474.2,244.5 476.2,244.5 478.3,244.5 480.3,244.6 482.3,244.7 484.3,244.8 486.3,244.9 488.4,245.1 490.4,245.3 492.4,245.5 494.3,245.7 496.3,245.9 498.3,246.2 500.2,246.5 502.1,246.8 504,247.3 505.9,247.7 507.8,248.3 509.6,248.9 511.4,249.5 513.2,250.3 515,251.1 516.7,252 518.4,253 520.1,254 521.7,255.1 523.3,256.3 524.9,257.5 526.4,258.8 527.9,260.2 529.4,261.6 530.9,263 532.3,264.5 533.6,266 535,267.5 536.3,269.1 537.5,270.6 538.8,272.2 540,273.8 541.1,275.5 542.3,277.1 543.4,278.8 544.5,280.4 545.5,282.1 546.5,283.9 547.5,285.6 548.5,287.3 549.4,289.1 550.3,290.8 551.2,292.6 552.1,294.4 552.9,296.2 553.7,298.1 554.5,299.9 555.3,301.7 556.1,303.6 556.8,305.4 557.5,307.3 558.2,309.2 558.9,311.1 559.6,313 560.3,314.9 560.9,316.8 561.5,318.7 562.2,320.6 562.8,322.5 563.4,324.5 564,326.4 564.5,328.3 565.1,330.3 565.7,332.2 566.2,334.2 566.8,336.1 567.4,338.1 567.9,340 568.4,341.9 569,343.9 569.5,345.8 570.1,347.8 570.6,349.7 571.1,351.7 571.6,353.6 572.2,355.6 572.7,357.5 573.2,359.5 573.7,361.4 574.2,363.4 574.7,365.3 575.2,367.3 575.7,369.2 576.2,371.1 576.7,373.1 577.2,375 577.7,377 578.2,378.9 578.6,380.9 579.1,382.8 579.6,384.8 580.1,386.7 580.5,388.7 581,390.6 581.5,392.6 581.9,394.5 582.4,396.5 582.8,398.4 583.3,400.4 583.7,402.3 584.2,404.3 584.6,406.2 585.1,408.2 585.5,410.1 585.9,412.1 586.4,414 586.8,416 587.2,417.9 587.7,419.9 588.1,421.8 588.5,423.8 588.9,425.7 589.4,427.7 589.8,429.6 590.2,431.6 590.6,433.5 591,435.5 591.4,437.5 591.8,439.4 592.3,441.4 592.7,443.3 593.1,445.3 593.5,447.2 593.9,449.2 594.3,451.1 594.7,453.1 595.1,455 595.4,457 595.8,458.9 596.2,460.9 596.6,462.8 597,464.8 597.4,466.8 597.8,468.7 598.2,470.7 598.6,472.6 598.9,474.6 599.3,476.5 599.7,478.5 600.1,480.4 600.5,482.4 600.8,484.4 601.2,486.3 601.6,488.3 602,490.2 602.3,492.2 602.7,494.1 603.1,496.1 603.4,498.1 603.8,500 604.2,502 604.5,503.9 604.9,505.9 605.3,507.8 605.7,509.8 606,511.8 606.4,513.7 606.7,515.7 607.1,517.6 607.5,519.6 607.8,521.5 608.2,523.5 608.6,525.5 608.9,527.4 609.3,529.4 609.7,531.3 610,533.3 610.4,535.3 610.8,537.2 611.1,539.2 611.5,541.1 611.8,543.1 612.2,545.1 612.6,547 612.9,549 613.3,550.9 613.7,552.9 614,554.9 614.4,556.8 614.8,558.8 615.1,560.7 615.5,562.7 615.9,564.7 616.2,566.6 616.6,568.6 617,570.5 617.3,572.5 617.7,574.5 618.1,576.4 618.4,578.4 618.8,580.4 619.2,582.3 619.5,584.3 619.9,586.2 620.3,588.2 620.6,590.2 621,592.1 621.4,594.1 621.7,596.1 622.1,598 622.5,600 622.9,601.9 623.2,603.9 623.6,605.9 624,607.8 624.4,609.8 624.7,611.8 625.1,613.7 625.5,615.7 625.9,617.6 626.2,619.6 626.6,621.6 627,623.5 627.4,625.5 627.8,627.5 628.1,629.4 628.5,631.4 628.9,633.3 629.3,635.3 629.7,637.3 630,639.2 630.4,641.2 630.8,643.2 631.2,645.1 631.6,647.1 632,649 632.4,651 632.7,653 633.1,654.9 633.5,656.9 633.9,658.8 634.3,660.8 634.7,662.8 635.1,664.7 635.5,666.7 635.9,668.7 636.3,670.6 636.6,672.6 637,674.5 637.4,676.5 637.8,678.5 638.2,680.4 638.6,682.4 639,684.3 639.4,686.3 639.8,688.3 640.2,690.2 640.6,692.2 641,694.2 641.4,696.1 641.8,698.1 642.2,700 642.6,702 643.1,703.9 643.5,705.9 643.9,707.9 644.3,709.8 644.7,711.8 645.1,713.7 645.5,715.7 645.9,717.7 646.3,719.6 646.8,721.6 647.2,723.5 647.6,725.5 648,727.5 648.4,729.4 648.8,731.4 649.3,733.3 649.7,735.3 650.1,737.2 650.5,739.2 651,741.2 651.4,743.1 651.8,745.1 652.2,747 652.7,749 653.1,750.9 653.5,752.9 654,754.8 654.4,756.8 654.8,758.7 655.3,760.7 655.7,762.7 656.1,764.6 656.6,766.6 657,768.5 657.5,770.5 657.9,772.4 658.3,774.4 658.8,776.3 659.2,778.3 659.7,780.2 660.1,782.2 660.6,784.1 661,786.1 661.5,788 661.9,790 662.4,791.9 662.8,793.9 663.3,795.8 663.8,797.8 664.2,799.7 664.7,801.7 665.1,803.6 665.6,805.6 666.1,807.5 666.5,809.5 667,811.4 667.5,813.4 667.9,815.3 668.4,817.3 668.9,819.2 669.4,821.1 669.8,823.1 670.3,825 670.8,827 671.3,828.9 671.8,830.9 672.2,832.8 672.7,834.8 673.2,836.7 673.7,838.6 674.2,840.6 674.7,842.5 675.2,844.5 675.7,846.4 676.1,848.3 676.6,850.3 677.1,852.2 677.6,854.2 678.1,856.1 678.6,858 679.1,860 679.6,861.9 680.2,863.8 680.7,865.8 681.2,867.7 681.7,869.7 682.2,871.6 682.7,873.5 683.2,875.5 683.7,877.4 684.3,879.3 684.8,881.3 685.3,883.2 685.8,885.1 686.4,887.1 686.9,889 687.4,890.9 687.9,892.8 688.5,894.8 689,896.7 689.5,898.6 690.1,900.6 690.6,902.5 691.2,904.4 691.7,906.3 692.3,908.3 692.8,910.2 693.4,912.1 694,914 694.5,915.9 695.1,917.9 695.7,919.8 696.2,921.7 696.8,923.6 697.4,925.5 698,927.4 698.6,929.3 699.1,931.2 699.7,933.1 700.3,935.1 700.9,937 701.6,938.9 702.2,940.8 702.8,942.7 703.4,944.6 704,946.5 704.6,948.4 705.3,950.3 705.9,952.1 706.6,954 707.2,955.9 707.9,957.8 708.5,959.7 709.2,961.6 709.8,963.5 710.5,965.3 711.2,967.2 711.9,969.1 712.6,971 713.3,972.8 714,974.7 714.7,976.6 715.4,978.4 716.1,980.3 716.8,982.2 717.6,984 718.3,985.9 719,987.7 719.8,989.6 720.5,991.4 721.3,993.3 722.1,995.1 722.8,996.9 723.6,998.8 724.4,1000.6 725.2,1002.4 726,1004.3 726.8,1006.1 727.6,1007.9 728.4,1009.8 729.3,1011.6 730.1,1013.4 730.9,1015.2 731.8,1017 732.7,1018.8 733.5,1020.6 734.4,1022.4 735.3,1024.2 736.2,1026 737.1,1027.8 738,1029.6 738.9,1031.4 739.8,1033.1 740.7,1034.9 741.7,1036.7 742.6,1038.5 743.6,1040.2 744.6,1042 745.5,1043.7 746.5,1045.5 747.5,1047.2 748.5,1048.9 749.6,1050.6 750.6,1052.4 751.6,1054.1 752.7,1055.8 753.7,1057.5 754.8,1059.1 755.9,1060.8 757,1062.5 758.1,1064.1 759.2,1065.8 760.4,1067.4 761.5,1069.1 762.7,1070.7 763.8,1072.3 765,1073.9 766.2,1075.5 767.4,1077.1 768.6,1078.7 769.8,1080.2 771.1,1081.8 772.3,1083.3 773.6,1084.9 774.9,1086.4 776.2,1087.9 777.5,1089.4 778.8,1090.9 780.1,1092.4 781.5,1093.8 782.8,1095.3 784.2,1096.7 785.6,1098.2 787,1099.6 788.4,1101 789.8,1102.4 791.2,1103.8 792.6,1105.2 794.1,1106.5 795.6,1107.9 797,1109.2 798.5,1110.5 800,1111.9 801.5,1113.2 803,1114.5 804.6,1115.7 806.1,1117 807.7,1118.3 809.3,1119.5 810.8,1120.7 812.4,1122 814,1123.2 815.7,1124.3 817.3,1125.5 818.9,1126.7 820.6,1127.8 822.3,1129 823.9,1130.1 825.6,1131.2 827.3,1132.3 829,1133.4 830.7,1134.4 832.5,1135.5 834.2,1136.5 836,1137.5 837.7,1138.5 839.5,1139.5 841.3,1140.5 843.1,1141.4 844.9,1142.3 846.7,1143.3 848.5,1144.2 850.3,1145 852.1,1145.9 854,1146.7 855.8,1147.5 857.7,1148.3 859.5,1149.1 861.4,1149.9 863.3,1150.6 865.2,1151.3 867,1152 868.9,1152.7 870.8,1153.3 872.7,1153.9 874.7,1154.6 876.6,1155.1 878.5,1155.7 880.4,1156.2 882.3,1156.7 884.3,1157.2 886.2,1157.7 888.2,1158.1 890.1,1158.5 892.1,1158.9 894,1159.3 896,1159.6 897.9,1159.9 899.9,1160.2 901.9,1160.5 903.8,1160.7 905.8,1160.9 907.8,1161.1 909.8,1161.2 911.7,1161.3 913.7,1161.4 915.7,1161.5 917.7,1161.5 919.7,1161.5 921.6,1161.5 923.6,1161.4 925.6,1161.3 927.6,1161.2 929.6,1161 931.6,1160.9 933.5,1160.7 935.5,1160.4 937.5,1160.2 939.5,1159.9 941.4,1159.5 943.4,1159.2 945.4,1158.8 947.3,1158.4 949.3,1158 951.3,1157.5 953.2,1157.1 955.2,1156.6 957.1,1156.1 959.1,1155.5 961,1154.9 962.9,1154.4 964.8,1153.7 966.8,1153.1 968.7,1152.5 970.6,1151.8 972.5,1151.1 974.4,1150.4 976.3,1149.6 978.1,1148.9 980,1148.1 981.9,1147.3 983.7,1146.5 985.5,1145.7 987.4,1144.8 989.2,1144 991,1143.1 992.8,1142.2 994.6,1141.3 996.4,1140.4 998.2,1139.4 999.9,1138.5 1001.7,1137.5 1003.4,1136.5 1005.1,1135.5 1006.9,1134.5 1008.6,1133.5 1010.3,1132.4 1012,1131.4 1013.6,1130.3 1015.3,1129.2 1017,1128.1 1018.6,1127 1020.2,1125.9 1021.9,1124.7 1023.5,1123.6 1025.1,1122.4 1026.7,1121.2 1028.2,1120 1029.8,1118.8 1031.3,1117.6 1032.9,1116.3 1034.4,1115.1 1035.9,1113.8 1037.5,1112.5 1038.9,1111.2 1040.4,1109.9 1041.9,1108.6 1043.4,1107.2 1044.8,1105.9 1046.3,1104.5 1047.7,1103.1 1049.1,1101.7 1050.5,1100.3 1051.9,1098.9 1053.3,1097.5 1054.7,1096 1056,1094.6 1057.4,1093.1 1058.7,1091.6 1060.1,1090.2 1061.4,1088.7 1062.7,1087.2 1064,1085.7 1065.3,1084.1 1066.6,1082.6 1067.9,1081.1 1069.2,1079.5 1070.4,1077.9 1071.7,1076.4 1072.9,1074.8 1074.2,1073.2 1075.4,1071.6 1076.6,1070 1077.8,1068.4 1079,1066.8 1080.2,1065.2 1081.4,1063.6 1082.6,1061.9 1083.8,1060.3 1084.9,1058.7 1086.1,1057 1087.3,1055.3 1088.4,1053.7 1089.5,1052 1090.7,1050.4 1091.8,1048.7 1092.9,1047 1094.1,1045.3 1095.2,1043.6 1096.3,1042 1097.4,1040.3 1098.5,1038.6 1099.6,1036.9 1100.7,1035.2 1101.7,1033.5 1102.8,1031.8 1103.9,1030.1 1105,1028.4 1106,1026.7 1107.1,1025 1108.1,1023.3 1109.2,1021.5 1110.2,1019.8 1111.3,1018.1 1112.3,1016.4 1113.4,1014.7 1114.4,1013 1115.4,1011.3 1116.5,1009.5 1117.5,1007.8 1118.5,1006.1 1119.5,1004.4 1120.5,1002.7 1121.5,1000.9 1122.5,999.2 1123.5,997.5 1124.5,995.7 1125.5,994 1126.5,992.3 1127.5,990.5 1128.4,988.8 1129.4,987.1 1130.4,985.3 1131.3,983.6 1132.3,981.8 1133.3,980.1 1134.2,978.3 1135.2,976.6 1136.1,974.8 1137.1,973.1 1138,971.3 1138.9,969.6 1139.9,967.8 1140.8,966.1 1141.7,964.3 1142.7,962.5 1143.6,960.8 1144.5,959 1145.4,957.2 1146.3,955.5 1147.2,953.7 1148.1,951.9 1149,950.1 1149.9,948.4 1150.8,946.6 1151.7,944.8 1152.6,943 1153.5,941.2 1154.3,939.4 1155.2,937.7 1156.1,935.9 1157,934.1 1157.8,932.3 1158.7,930.5 1159.5,928.7 1160.4,926.9 1161.3,925.1 1162.1,923.2 1163,921.4 1163.8,919.6 1164.6,917.8 1165.5,916 1166.3,914.2 1167.2,912.4 1168,910.5 1168.8,908.7 1169.7,906.9 1170.5,905.1 1171.3,903.3 1172.2,901.4 1173,899.6 1173.8,897.8 1174.6,896 1175.5,894.1 1176.3,892.3 1177.1,890.5 1178,888.7 1178.8,886.8 1179.6,885 1180.5,883.2 1181.3,881.4 1182.1,879.5 1183,877.7 1183.8,875.9 1184.6,874.1 1185.5,872.2 1186.3,870.4 1187.2,868.6 1188,866.8 1188.8,865 1189.7,863.2 1190.6,861.3 1191.4,859.5 1192.3,857.7 1193.1,855.9 1194,854.1 1194.9,852.3 1195.7,850.5 1196.6,848.7 1197.5,846.9 1198.4,845.1 1199.3,843.3 1200.2,841.5 1201.1,839.8 1202,838 1202.9,836.2 1203.8,834.4 1204.7,832.6 1205.6,830.9 1206.5,829.1 1207.5,827.3 1208.4,825.5 1209.3,823.8 1210.3,822 1211.2,820.2 1212.1,818.5 1213.1,816.7 1214,815 1215,813.2 1215.9,811.4 1216.9,809.7 1217.8,807.9 1218.8,806.2 1219.7,804.4 1220.7,802.7 1221.7,800.9 1222.6,799.2 1223.6,797.4 1224.6,795.7 1225.5,793.9 1226.5,792.2 1227.5,790.4 1228.5,788.7 1229.4,787 1230.4,785.2 1231.4,783.5 1232.4,781.7 1233.4,780 1234.3,778.2 1235.3,776.5 1236.3,774.7 1237.3,773 1238.3,771.3 1239.3,769.5 1240.3,767.8 1241.3,766 1242.3,764.3 1243.3,762.6 1244.3,760.9 1245.3,759.1 1246.3,757.4 1247.3,755.7 1248.4,754 1249.4,752.3 1250.5,750.6 1251.5,748.9 1252.6,747.2 1253.6,745.5 1254.7,743.8 1255.8,742.1 1256.9,740.4 1258,738.8 1259.1,737.1 1260.2,735.5 1261.3,733.8 1262.4,732.2 1263.6,730.6 1264.7,728.9 1265.9,727.3 1267.1,725.7 1268.3,724.1 1269.5,722.5 1270.7,721 1271.9,719.4 1273.2,717.8 1274.4,716.3 1275.7,714.8 1277,713.2 1278.3,711.7 1279.6,710.2 1280.9,708.8 1282.3,707.3 1283.6,705.8 1285,704.4 1286.4,703 1287.8,701.6 1289.3,700.2 1290.7,698.8 1292.2,697.5 1293.7,696.2 1295.3,694.9 1296.8,693.6 1298.4,692.3 1300,691.1 1301.7,689.9 1303.3,688.8 1305,687.6 1306.7,686.5 1308.4,685.5 1310.2,684.5 1311.9,683.5 1313.7,682.6 1315.5,681.7 1317.3,680.9 1319.2,680.2 1321.1,679.5 1323,678.8 1324.9,678.3 1326.8,677.7 1328.7,677.3 1330.7,676.9 1332.7,676.6 1334.6,676.4 1336.6,676.2 1338.6,676.1 1340.6,676.1 1342.6,676.1 1344.5,676.2 1346.5,676.4 1348.5,676.6 1350.4,677 1352.3,677.4 1354.3,677.9 1356.1,678.4 1358,679 1359.9,679.7 1361.7,680.4 1363.6,681.2 1365.4,682 1367.2,682.9 1368.9,683.8 1370.7,684.8 1372.4,685.8 1374.1,686.9 1375.8,688 1377.5,689.1 1379.2,690.3 1380.8,691.5 1382.4,692.7 1384,693.9 1385.6,695.2 1387.2,696.4 1388.7,697.7 1390.2,699 1391.7,700.4 1393.2,701.7 1394.7,703.1 1396.1,704.5 1397.6,705.9 1399,707.3 1400.4,708.7 1401.8,710.1 1403.2,711.6 1404.5,713.1 1405.8,714.5 1407.2,716 1408.5,717.5 1409.8,719.1 1411.1,720.6 1412.4,722.1 1413.6,723.7 1414.9,725.2 1416.1,726.8 1417.3,728.4 1418.6,730 1419.8,731.6 1421,733.2 1422.2,734.8 1423.4,736.4 1424.5,738 1425.7,739.7 1426.9,741.3 1428,742.9 1429.2,744.6 1430.3,746.2 1431.5,747.8 1432.6,749.5 1433.8,751.1 1434.9,752.8 1436,754.4 1437.1,756.1 1438.3,757.8 1439.4,759.4 1440.5,761.1 1441.6,762.7 1442.7,764.4 1443.8,766 1444.9,767.7 1446,769.4 1447.1,771 1448.1,772.7 1449.2,774.4 1450.3,776.1 1451.4,777.7 1452.5,779.4 1453.5,781.1 1454.6,782.8 1455.6,784.4 1456.7,786.1 1457.8,787.8 1458.8,789.5 1459.9,791.2 1460.9,792.9 1461.9,794.6 1463,796.3 1464,798 1465,799.7 1466.1,801.4 1467.1,803.1 1468.1,804.8 1469.1,806.6 1470.1,808.3 1471.1,810 1472.1,811.7 1473.2,813.5 1474.2,815.2 1475.1,816.9 1476.1,818.7 1477.1,820.4 1478.1,822.2 1479.1,823.9 1480.1,825.7 1481.1,827.5 1482,829.2 1483,831 1484,832.8 1484.7,834.1"/>
<path d="M288.1,244.5 290.1,244.5 292.1,244.5 294.1,244.5 296.1,244.5 298.1,244.5 300.1,244.5 302.1,244.5 304.1,244.5 306.1,244.5 308.1,244.5 310.1,244.5 312.1,244.5 314.1,244.5 316.1,244.5 318.1,244.5 320.1,244.5 322.1,244.5 324.1,244.5 326.1,244.5 328.1,244.5 330.1,244.5 332.1,244.5 334.1,244.5 336.1,244.5 338.1,244.5 340.1,244.5 342.1,244.5 344.1,244.5 346.1,244.5 348.1,244.5 350.1,244.5 352.1,244.5 354.1,244.5 356.1,244.5 358.1,244.5 360.1,244.5 362.1,244.5 364.1,244.5 366.1,244.5 368.1,244.5 370.1,244.5 372.1,244.5 374.1,244.5 376.1,244.5 378.1,244.5 380.1,244.5 382.1,244.5 384.1,244.5 386.1,244.5 388.1,244.5 390.1,244.5 392.1,244.5 394.1,244.5 396.1,244.5 398.1,244.5 400.1,244.5 402.1,244.5 404.1,244.5 406.1,244.5 408.1,244.5 410.1,244.5 412.1,244.5 414.1,244.5 416.1,244.5 418.1,244.5 420.1,244.5 422.1,244.5 424.1,244.5 426.1,244.5 428.1,244.5 430.1,244.5 432.1,244.5 434.1,244.5 436.1,244.5 438.1,244.5 440.2,244.5 442.2,244.5 444.2,244.5 446.2,244.5 448.2,244.5 450.2,244.5 452.2,244.5 454.2,244.5 456.2,244.5 458.2,244.5 460.2,244.5 462.2,244.5 464.1,244.5 466.1,244.5 468.1,244.5 470.1,244.5 472.1,244.5 474.1,244.5 476.1,244.5 478.1,244.5 480.1,244.5 482.1,244.5 484.1,244.5 486.1,244.5 488.1,244.5 490.1,244.5 492.1,244.5 494.1,244.5 496.1,244.5 498.1,244.5 500.1,244.5 502.1,244.5 504.1,244.5 506.1,244.5 508.1,244.5 510.1,244.5 512,244.5 514,244.5 516,244.5 518,244.5 520,244.5 522,244.5 524,244.5 526,244.5 528,244.5 530,244.5 532,244.5 534,244.5 536,244.5 538,244.5 540,244.5 542,244.5 544,244.5 546,244.5 548,244.5 550,244.5 552,244.5 554,244.5 556,244.5 558,244.5 560,244.5 562,244.5 564,244.5 566,244.5 568,244.5 570.1,244.5 572.1,244.5 574.1,244.5 576.1,244.5 578.1,244.5 580.2,244.5 582.2,244.5 584.2,244.5 586.2,244.6 588.3,244.6 590.3,244.7 592.3,244.9 594.3,245 596.3,245.2 598.3,245.4 600.3,245.5 602.3,245.8 604.3,246 606.2,246.3 608.2,246.7 610.1,247 612,247.5 613.9,248 615.7,248.6 617.5,249.2 619.3,249.9 621.1,250.7 622.9,251.5 624.6,252.5 626.3,253.5 627.9,254.5 629.5,255.7 631.1,256.9 632.7,258.2 634.2,259.5 635.7,260.9 637.2,262.3 638.6,263.8 640,265.3 641.3,266.9 642.7,268.4 643.9,270.1 645.2,271.7 646.4,273.4 647.6,275.1 648.7,276.8 649.8,278.5 650.9,280.3 651.9,282 652.9,283.8 653.8,285.6 654.8,287.3 655.7,289.1 656.5,290.9 657.4,292.7 658.2,294.5 659,296.3 659.8,298.2 660.5,300 661.3,301.8 662,303.6 662.7,305.5 663.4,307.3 664.1,309.2 664.8,311 665.5,312.9 666.2,314.7 666.9,316.6 667.5,318.5 668.2,320.3 668.8,322.2 669.5,324.1 670.1,325.9 670.8,327.8 671.4,329.7 672,331.6 672.6,333.5 673.2,335.4 673.8,337.2 674.4,339.1 675,341 675.6,342.9 676.1,344.8 676.7,346.7 677.3,348.6 677.8,350.5 678.4,352.5 678.9,354.4 679.5,356.3 680,358.2 680.6,360.1 681.1,362 681.6,364 682.1,365.9 682.6,367.8 683.1,369.7 683.6,371.7 684.1,373.6 684.6,375.5 685.1,377.5 685.6,379.4 686.1,381.3 686.6,383.3 687,385.2 687.5,387.2 688,389.1 688.4,391 688.9,393 689.3,394.9 689.8,396.9 690.2,398.8 690.7,400.8 691.1,402.8 691.5,404.7 692,406.7 692.4,408.6 692.8,410.6 693.3,412.5 693.7,414.5 694.1,416.5 694.5,418.4 694.9,420.4 695.3,422.4 695.7,424.3 696.1,426.3 696.5,428.3 696.9,430.2 697.3,432.2 697.7,434.2 698.1,436.1 698.5,438.1 698.9,440.1 699.3,442 699.7,444 700.1,446 700.5,448 700.8,449.9 701.2,451.9 701.6,453.9 702,455.9 702.4,457.8 702.7,459.8 703.1,461.8 703.5,463.8 703.9,465.7 704.2,467.7 704.6,469.7 705,471.7 705.3,473.6 705.7,475.6 706.1,477.6 706.5,479.6 706.8,481.5 707.2,483.5 707.6,485.5 707.9,487.5 708.3,489.4 708.7,491.4 709,493.4 709.4,495.3 709.8,497.3 710.2,499.3 710.5,501.3 710.9,503.2 711.3,505.2 711.6,507.2 712,509.2 712.4,511.1 712.7,513.1 713.1,515.1 713.5,517 713.8,519 714.2,521 714.6,523 714.9,524.9 715.3,526.9 715.7,528.9 716,530.8 716.4,532.8 716.8,534.8 717.1,536.7 717.5,538.7 717.9,540.7 718.2,542.6 718.6,544.6 719,546.6 719.3,548.6 719.7,550.5 720.1,552.5 720.4,554.5 720.8,556.4 721.2,558.4 721.5,560.4 721.9,562.3 722.3,564.3 722.6,566.3 723,568.2 723.4,570.2 723.7,572.2 724.1,574.1 724.5,576.1 724.8,578.1 725.2,580 725.6,582 725.9,584 726.3,585.9 726.7,587.9 727.1,589.9 727.4,591.8 727.8,593.8 728.2,595.8 728.5,597.7 728.9,599.7 729.3,601.6 729.6,603.6 730,605.6 730.4,607.5 730.8,609.5 731.1,611.5 731.5,613.4 731.9,615.4 732.3,617.4 732.6,619.3 733,621.3 733.4,623.2 733.8,625.2 734.1,627.2 734.5,629.1 734.9,631.1 735.3,633.1 735.7,635 736,637 736.4,638.9 736.8,640.9 737.2,642.9 737.6,644.8 737.9,646.8 738.3,648.7 738.7,650.7 739.1,652.7 739.5,654.6 739.8,656.6 740.2,658.5 740.6,660.5 741,662.5 741.4,664.4 741.8,666.4 742.2,668.3 742.6,670.3 742.9,672.2 743.3,674.2 743.7,676.2 744.1,678.1 744.5,680.1 744.9,682 745.3,684 745.7,685.9 746.1,687.9 746.5,689.9 746.9,691.8 747.3,693.8 747.7,695.7 748.1,697.7 748.5,699.6 748.9,701.6 749.3,703.6 749.7,705.5 750.1,707.5 750.5,709.4 750.9,711.4 751.3,713.3 751.7,715.3 752.1,717.2 752.5,719.2 752.9,721.1 753.3,723.1 753.8,725.1 754.2,727 754.6,729 755,730.9 755.4,732.9 755.8,734.8 756.2,736.8 756.7,738.7 757.1,740.7 757.5,742.6 757.9,744.6 758.3,746.5 758.8,748.5 759.2,750.4 759.6,752.4 760,754.3 760.5,756.3 760.9,758.2 761.3,760.2 761.8,762.1 762.2,764.1 762.6,766 763.1,768 763.5,769.9 763.9,771.9 764.4,773.8 764.8,775.8 765.3,777.7 765.7,779.7 766.1,781.6 766.6,783.6 767,785.5 767.5,787.5 767.9,789.4 768.4,791.4 768.8,793.3 769.3,795.3 769.7,797.2 770.2,799.2 770.6,801.1 771.1,803 771.5,805 772,806.9 772.5,808.9 772.9,810.8 773.4,812.8 773.9,814.7 774.3,816.7 774.8,818.6 775.3,820.6 775.7,822.5 776.2,824.4 776.7,826.4 777.2,828.3 777.6,830.3 778.1,832.2 778.6,834.2 779.1,836.1 779.6,838.1 780,840 780.5,841.9 781,843.9 781.5,845.8 782,847.8 782.5,849.7 783,851.6 783.5,853.6 784,855.5 784.5,857.5 785,859.4 785.5,861.4 786,863.3 786.5,865.2 787,867.2 787.5,869.1 788,871 788.5,873 789.1,874.9 789.6,876.9 790.1,878.8 790.6,880.7 791.1,882.7 791.7,884.6 792.2,886.5 792.8,888.5 793.3,890.4 793.8,892.3 794.4,894.2 794.9,896.2 795.5,898.1 796,900 796.6,901.9 797.2,903.9 797.7,905.8 798.3,907.7 798.9,909.6 799.4,911.6 800,913.5 800.6,915.4 801.2,917.3 801.8,919.2 802.4,921.1 803,923 803.6,924.9 804.2,926.8 804.8,928.8 805.4,930.7 806,932.6 806.6,934.5 807.3,936.4 807.9,938.3 808.5,940.1 809.2,942 809.8,943.9 810.5,945.8 811.1,947.7 811.8,949.6 812.5,951.5 813.1,953.4 813.8,955.2 814.5,957.1 815.2,959 815.9,960.9 816.6,962.7 817.3,964.6 818,966.5 818.7,968.3 819.4,970.2 820.1,972.1 820.8,973.9 821.6,975.8 822.3,977.6 823.1,979.5 823.8,981.3 824.6,983.2 825.3,985 826.1,986.8 826.9,988.7 827.7,990.5 828.4,992.3 829.2,994.2 830,996 830.8,997.8 831.7,999.6 832.5,1001.5 833.3,1003.3 834.1,1005.1 835,1006.9 835.8,1008.7 836.7,1010.5 837.5,1012.3 838.4,1014.1 839.3,1015.9 840.1,1017.7 841,1019.5 841.9,1021.3 842.8,1023 843.7,1024.8 844.6,1026.6 845.6,1028.4 846.5,1030.1 847.4,1031.9 848.4,1033.7 849.3,1035.4 850.3,1037.2 851.2,1038.9 852.2,1040.7 853.2,1042.4 854.2,1044.2 855.2,1045.9 856.2,1047.6 857.2,1049.4 858.2,1051.1 859.2,1052.8 860.2,1054.5 861.3,1056.2 862.3,1057.9 863.4,1059.7 864.5,1061.4 865.5,1063.1 866.6,1064.7 867.7,1066.4 868.8,1068.1 869.9,1069.8 871,1071.5 872.1,1073.1 873.3,1074.8 874.4,1076.4 875.5,1078.1 876.7,1079.7 877.9,1081.4 879.1,1083 880.2,1084.6 881.4,1086.2 882.7,1087.8 883.9,1089.4 885.1,1091 886.3,1092.5 887.6,1094.1 888.9,1095.7 890.1,1097.2 891.4,1098.7 892.7,1100.3 894,1101.8 895.3,1103.3 896.7,1104.8 898,1106.2 899.3,1107.7 900.7,1109.2 902.1,1110.6 903.5,1112 904.9,1113.4 906.3,1114.9 907.7,1116.2 909.2,1117.6 910.6,1119 912.1,1120.3 913.6,1121.7 915.1,1123 916.6,1124.3 918.1,1125.6 919.6,1126.8 921.2,1128.1 922.7,1129.3 924.3,1130.6 925.9,1131.8 927.5,1132.9 929.1,1134.1 930.8,1135.3 932.4,1136.4 934.1,1137.5 935.7,1138.6 937.4,1139.6 939.1,1140.7 940.9,1141.7 942.6,1142.7 944.3,1143.6 946.1,1144.6 947.9,1145.5 949.7,1146.4 951.5,1147.2 953.3,1148.1 955.2,1148.9 957,1149.7 958.9,1150.4 960.8,1151.2 962.7,1151.9 964.6,1152.6 966.5,1153.3 968.4,1154 970.3,1154.6 972.2,1155.2 974.1,1155.9 976,1156.5 978,1157.1 979.9,1157.6 981.8,1158.2 983.7,1158.8 985.6,1159.3 987.5,1159.9 989.4,1160.5 991.3,1161 993.2,1161.5 995.1,1162 997,1162.6 998.9,1163.1 1000.8,1163.6 1002.7,1164 1004.6,1164.5 1006.5,1165 1008.4,1165.4 1010.3,1165.9 1012.2,1166.3 1014.1,1166.7 1016.1,1167.2 1018,1167.6 1020,1167.9 1021.9,1168.3 1023.9,1168.7 1025.9,1169 1027.9,1169.4 1029.9,1169.7 1031.9,1170 1033.9,1170.3 1036,1170.6 1038,1170.8 1040.1,1171.1 1042.2,1171.3 1044.2,1171.5 1046.3,1171.6 1048.4,1171.8 1050.5,1171.9 1052.5,1172 1054.6,1172 1056.6,1172 1058.7,1172 1060.7,1171.9 1062.7,1171.8 1064.8,1171.6 1066.8,1171.4 1068.7,1171.2 1070.7,1170.9 1072.7,1170.6 1074.6,1170.3 1076.6,1169.9 1078.5,1169.5 1080.4,1169 1082.3,1168.5 1084.2,1168 1086.1,1167.4 1088,1166.8 1089.8,1166.2 1091.7,1165.5 1093.5,1164.8 1095.3,1164.1 1097.1,1163.3 1098.9,1162.5 1100.7,1161.7 1102.4,1160.9 1104.2,1160 1105.9,1159.1 1107.6,1158.1 1109.3,1157.2 1111,1156.2 1112.7,1155.2 1114.4,1154.1 1116.1,1153 1117.7,1151.9 1119.3,1150.8 1120.9,1149.7 1122.5,1148.5 1124.1,1147.3 1125.7,1146.1 1127.2,1144.8 1128.8,1143.6 1130.3,1142.3 1131.8,1141 1133.3,1139.6 1134.8,1138.3 1136.3,1136.9 1137.7,1135.5 1139.2,1134.1 1140.6,1132.7 1142,1131.2 1143.4,1129.8 1144.8,1128.3 1146.1,1126.8 1147.5,1125.3 1148.8,1123.7 1150.1,1122.2 1151.4,1120.6 1152.7,1119 1154,1117.5 1155.3,1115.8 1156.5,1114.2 1157.7,1112.6 1158.9,1111 1160.1,1109.3 1161.3,1107.7 1162.4,1106 1163.6,1104.3 1164.7,1102.6 1165.8,1100.9 1166.9,1099.2 1168,1097.5 1169,1095.8 1170.1,1094 1171.1,1092.3 1172.1,1090.5 1173.1,1088.8 1174.1,1087 1175,1085.3 1175.9,1083.5 1176.9,1081.7 1177.8,1080 1178.7,1078.2 1179.6,1076.4 1180.4,1074.6 1181.3,1072.8 1182.1,1071 1183,1069.2 1183.8,1067.4 1184.6,1065.5 1185.4,1063.7 1186.2,1061.9 1186.9,1060.1 1187.7,1058.2 1188.4,1056.4 1189.2,1054.5 1189.9,1052.7 1190.6,1050.8 1191.3,1049 1192.1,1047.1 1192.7,1045.3 1193.4,1043.4 1194.1,1041.5 1194.8,1039.7 1195.5,1037.8 1196.1,1035.9 1196.8,1034 1197.4,1032.2 1198.1,1030.3 1198.7,1028.4 1199.4,1026.5 1200,1024.6 1200.6,1022.7 1201.2,1020.8 1201.9,1019 1202.5,1017.1 1203.1,1015.2 1203.7,1013.3 1204.3,1011.4 1204.9,1009.5 1205.5,1007.6 1206.1,1005.7 1206.8,1003.8 1207.4,1001.9 1208,1000 1208.6,998.1 1209.2,996.2 1209.8,994.3 1210.4,992.4 1211,990.5 1211.7,988.6 1212.3,986.7 1212.9,984.8 1213.5,982.9 1214.2,981 1214.8,979.1 1215.4,977.2 1216.1,975.3 1216.7,973.4 1217.4,971.5 1218,969.6 1218.7,967.7 1219.3,965.8 1220,963.9 1220.6,962 1221.3,960.1 1222,958.2 1222.6,956.3 1223.3,954.4 1223.9,952.5 1224.6,950.6 1225.3,948.8 1225.9,946.9 1226.6,945 1227.2,943.1 1227.9,941.2 1228.6,939.3 1229.2,937.4 1229.9,935.5 1230.5,933.6 1231.2,931.7 1231.9,929.8 1232.5,927.9 1233.2,926 1233.8,924.1 1234.5,922.2 1235.1,920.3 1235.8,918.4 1236.4,916.5 1237.1,914.6 1237.7,912.7 1238.3,910.8 1239,908.9 1239.6,907 1240.2,905.1 1240.8,903.2 1241.5,901.3 1242.1,899.4 1242.7,897.5 1243.3,895.6 1243.9,893.7 1244.5,891.7 1245.1,889.8 1245.7,887.9 1246.3,886 1246.9,884.1 1247.5,882.2 1248.1,880.3 1248.7,878.4 1249.3,876.4 1249.9,874.5 1250.4,872.6 1251,870.7 1251.6,868.8 1252.2,866.9 1252.8,865 1253.4,863.1 1253.9,861.1 1254.5,859.2 1255.1,857.3 1255.7,855.4 1256.3,853.5 1256.8,851.6 1257.4,849.7 1258,847.8 1258.6,845.8 1259.2,843.9 1259.8,842 1260.4,840.1 1261,838.2 1261.5,836.3 1262.1,834.4 1262.7,832.5 1263.3,830.6 1263.9,828.7 1264.5,826.8 1265.2,824.9 1265.8,823 1266.4,821.1 1267,819.2 1267.6,817.3 1268.2,815.4 1268.9,813.5 1269.5,811.6 1270.1,809.7 1270.8,807.8 1271.4,805.9 1272.1,804.1 1272.7,802.2 1273.4,800.3 1274,798.4 1274.7,796.5 1275.4,794.7 1276.1,792.8 1276.7,790.9 1277.4,789 1278.1,787.2 1278.8,785.3 1279.5,783.4 1280.2,781.6 1281,779.7 1281.7,777.9 1282.4,776 1283.2,774.2 1283.9,772.3 1284.7,770.5 1285.4,768.6 1286.2,766.8 1287,764.9 1287.8,763.1 1288.6,761.3 1289.4,759.4 1290.2,757.6 1291,755.8 1291.8,754 1292.7,752.2 1293.5,750.3 1294.4,748.5 1295.3,746.7 1296.2,745 1297.1,743.2 1298,741.4 1299,739.7 1299.9,737.9 1300.9,736.2 1302,734.5 1303,732.8 1304.1,731.1 1305.2,729.4 1306.3,727.8 1307.5,726.1 1308.7,724.5 1310,722.9 1311.2,721.4 1312.5,719.8 1313.9,718.3 1315.3,716.8 1316.7,715.3 1318.2,713.9 1319.7,712.5 1321.2,711.1 1322.8,709.8 1324.4,708.5 1326.1,707.4 1327.8,706.3 1329.5,705.3 1331.3,704.5 1333.1,703.8 1334.9,703.3 1336.7,703 1338.6,702.9 1340.5,702.9 1342.3,703.2 1344.2,703.6 1346.1,704.2 1347.9,704.9 1349.8,705.8 1351.6,706.8 1353.3,707.8 1355,709 1356.7,710.2 1358.3,711.5 1359.8,712.9 1361.3,714.3 1362.7,715.7 1364,717.2 1365.4,718.7 1366.6,720.2 1367.8,721.8 1369,723.4 1370.2,725.1 1371.3,726.7 1372.3,728.4 1373.4,730.1 1374.4,731.9 1375.4,733.6 1376.4,735.4 1377.3,737.1 1378.3,738.9 1379.2,740.7 1380.1,742.5 1381.1,744.3 1382,746.1 1382.9,747.9 1383.7,749.7 1384.6,751.5 1385.5,753.3 1386.4,755.1 1387.2,756.9 1388.1,758.7 1388.9,760.5 1389.7,762.3 1390.6,764.2 1391.4,766 1392.2,767.8 1393,769.7 1393.8,771.5 1394.6,773.3 1395.3,775.2 1396.1,777 1396.9,778.9 1397.6,780.7 1398.4,782.6 1399.1,784.4 1399.9,786.3 1400.6,788.1 1401.3,790 1402,791.9 1402.7,793.7 1403.4,795.6 1404.1,797.5 1404.8,799.3 1405.5,801.2 1406.2,803.1 1406.9,805 1407.6,806.8 1408.2,808.7 1408.9,810.6 1409.6,812.5 1410.2,814.4 1410.9,816.3 1411.5,818.2 1412.1,820.1 1412.8,822 1413.4,823.9 1414,825.7 1414.6,827.6 1415.3,829.5 1415.9,831.5 1416.5,833.4 1417.1,835.3 1417.7,837.2 1418.3,839.1 1418.9,841 1419.5,842.9 1420.1,844.8 1420.7,846.7 1421.3,848.6 1421.8,850.5 1422.4,852.5 1423,854.4 1423.6,856.3 1424.1,858.2 1424.7,860.1 1425.3,862 1425.8,864 1426.4,865.9 1427,867.8 1427.5,869.7 1428.1,871.6 1428.7,873.6 1429.2,875.5 1429.8,877.4 1430.3,879.3 1430.9,881.3 1431.4,883.2 1432,885.1 1432.6,887 1433.1,888.9 1433.7,890.9 1434.2,892.8 1434.8,894.7 1435.3,896.6 1435.9,898.6 1436.4,900.5 1437,902.4 1437.5,904.3 1438.1,906.3 1438.6,908.2 1439.2,910.1 1439.8,912 1440.3,914 1440.9,915.9 1441.4,917.8 1442,919.7 1442.6,921.6 1443.1,923.5 1443.7,925.5 1444.3,927.4 1444.8,929.3 1445.4,931.2 1446,933.1 1446.6,935 1447.1,937 1447.7,938.9 1448.3,940.8 1448.9,942.7 1449.5,944.6 1450.1,946.5 1450.7,948.4 1451.3,950.3 1451.9,952.2 1452.5,954.1 1453.1,956 1453.7,957.9 1454.3,959.8 1455,961.7 1455.6,963.6 1456.2,965.5 1456.8,967.4 1457.5,969.3 1458.1,971.2 1458.8,973.1 1459.4,974.9 1460.1,976.8 1460.8,978.7 1461.4,980.6 1462.1,982.5 1462.8,984.3 1463.5,986.2 1464.1,988.1 1464.8,989.9 1465.5,991.8 1466.3,993.7 1467,995.5 1467.7,997.4 1468.4,999.2 1469.1,1001.1 1469.9,1003 1470.6,1004.8 1471.4,1006.6 1472.1,1008.5 1472.9,1010.3 1473.7,1012.2 1474.4,1014 1475.2,1015.8 1476,1017.7 1476.8,1019.5 1477.6,1021.3 1478.5,1023.1 1479.3,1025 1480.1,1026.8 1480.9,1028.6 1481.8,1030.4 1482.7,1032.2 1483.5,1034 1484.4,1035.8 1484.5,1036.1"/>
<path d="M288.1,244.5 290.1,244.5 292.1,244.5 294.1,244.5 296.1,244.5 298.1,244.5 300.1,244.5 302.1,244.5 304.1,244.5 306.1,244.5 308.1,244.5 310.1,244.5 312.1,244.5 314.1,244.5 316.1,244.5 318.1,244.5 320.1,244.5 322.1,244.5 324.1,244.5 326.1,244.5 328.1,244.5 330.1,244.5 332.1,244.5 334.1,244.5 336.1,244.5 338.1,244.5 340.1,244.5 342.1,244.5 344.1,244.5 346.1,244.5 348.1,244.5 350.1,244.5 352.1,244.5 354.1,244.5 356.1,244.5 358.1,244.5 360.1,244.5 362.1,244.5 364.1,244.5 366.1,244.5 368.1,244.5 370.1,244.5 372.1,244.5 374.1,244.5 376.1,244.5 378.1,244.5 380.1,244.5 382.1,244.5 384.1,244.5 386.1,244.5 388.1,244.5 390.1,244.5 392.1,244.5 394.1,244.5 396.1,244.5 398.1,244.5 400.1,244.5 402.1,244.5 404.1,244.5 406.1,244.5 408.1,244.5 410.1,244.5 412.1,244.5 414.1,244.5 416.1,244.5 418.1,244.5 420.1,244.5 422.1,244.5 424.1,244.5 426.1,244.5 428.1,244.5 430.1,244.5 432.1,244.5 434.1,244.5 436.1,244.5 438.1,244.5 440.1,244.5 442.1,244.5 444.1,244.5 446.1,244.5 448.1,244.5 450.1,244.5 452.1,244.5 454.1,244.5 456.1,244.5 458.1,244.5 460.1,244.5 462.1,244.5 464.1,244.5 466.1,244.5 468.1,244.5 470.1,244.5 472.1,244.5 474.1,244.5 476.1,244.5 478.1,244.5 480.1,244.5 482.1,244.5 484.1,244.5 486.1,244.5 488.1,244.5 490.1,244.5 492.1,244.5 494.1,244.5 496.1,244.5 498.1,244.5 500.1,244.5 502.1,244.5 504.1,244.5 506.1,244.5 508.1,244.5 510.1,244.5 512.1,244.5 514.1,244.5 516.1,244.5 518.1,244.5 520.1,244.5 522.1,244.5 524.1,244.5 526.1,244.5 528.1,244.5 530.1,244.5 532.1,244.5 534.1,244.5 536.1,244.5 538.1,244.5 540.1,244.5 542.1,244.5 544.1,244.5 546.1,244.5 548.1,244.5 550.1,244.5 552.1,244.5 554.1,244.5 556.1,244.5 558.1,244.5 560.1,244.5 562.1,244.5 564.1,244.5 566.1,244.5 568.1,244.5 570.1,244.5 572.1,244.5 574.1,244.5 576.1,244.5 578.1,244.5 580.1,244.5 582.1,244.5 584.1,244.5 586.1,244.5 588.1,244.5 590.1,244.5 592.1,244.5 594.1,244.5 596.1,244.5 598.1,244.5 600.1,244.5 602.1,244.5 604.1,244.5 606.1,244.5 608.1,244.5 610.1,244.5 612.1,244.5 614.1,244.5 616.1,244.5 618.1,244.5 620.1,244.5 622.1,244.5 624.1,244.5 626.1,244.5 628.1,244.5 630.1,244.5 632.1,244.5 634.1,244.5 636.1,244.5 638.1,244.5 640.1,244.5 642.1,244.5 644.1,244.5 646.1,244.5 648.1,244.5 650.1,244.5 652.1,244.5 654.1,244.5 656.1,244.5 658.1,244.5 660.1,244.5 662.1,244.5 664.1,244.5 666.1,244.5 668.1,244.5 670.1,244.5 672.1,244.5 674.1,244.5 676.1,244.5 678.1,244.5 680.1,244.5 682.1,244.5 684.1,244.5 686.1,244.5 688.1,244.5 690.1,244.5 692.1,244.5 694.1,244.5 696.1,244.5 698.1,244.5 700.1,244.5 702.1,244.5 704.1,244.5 706.1,244.5 708.1,244.5 710.1,244.5 712.1,244.5 714.1,244.5 716.1,244.5 718.1,244.5 720.1,244.5 722.1,244.5 724.1,244.5 726.1,244.5 728.1,244.5 730.1,244.5 732.1,244.5 734.1,244.5 736.1,244.5 738.1,244.5 740.1,244.5 742.1,244.5 744.1,244.5 746.1,244.5 748.1,244.5 750.1,244.5 752.1,244.5 754.1,244.5 756.1,244.5 758.1,244.5 760.1,244.5 762.1,244.5 764.1,244.5 766.1,244.5 768.1,244.5 770.1,244.5 772.1,244.5 774.1,244.5 776.1,244.5 778.1,244.5 780.1,244.5 782.1,244.5 784.1,244.5 786.1,244.5 788.1,244.5 790.1,244.5 792.2,244.5 794.2,244.5 796.2,244.5 798.2,244.5 800.2,244.5 802.2,244.5 804.2,244.5 806.2,244.5 808.2,244.5 810.2,244.5 812.2,244.5 814.2,244.5 816.2,244.5 818.2,244.5 820.2,244.5 822.2,244.6 824.1,244.8 826.1,245 828.1,245.2 830.1,245.5 832,245.9 834,246.2 835.9,246.7 837.9,247.1 839.8,247.7 841.7,248.3 843.6,248.9 845.5,249.6 847.4,250.3 849.2,251.2 851,252 852.8,252.9 854.5,253.9 856.3,254.9 857.9,256 859.5,257.1 861.1,258.3 862.6,259.5 864.1,260.8 865.6,262.1 867,263.4 868.3,264.8 869.6,266.3 870.9,267.7 872.2,269.3 873.4,270.8 874.6,272.4 875.7,274 876.8,275.6 877.9,277.3 879,279 880,280.7 881,282.5 882,284.2 882.9,286 883.8,287.9 884.7,289.7 885.6,291.5 886.5,293.4 887.3,295.3 888.1,297.1 888.9,299 889.7,300.9 890.5,302.9 891.2,304.8 892,306.7 892.7,308.6 893.4,310.5 894.2,312.5 894.9,314.4 895.6,316.3 896.2,318.2 896.9,320.1 897.6,322.1 898.2,324 898.9,325.9 899.5,327.8 900.2,329.8 900.8,331.7 901.4,333.6 902,335.5 902.6,337.5 903.2,339.4 903.8,341.3 904.4,343.2 904.9,345.2 905.5,347.1 906,349 906.6,350.9 907.1,352.9 907.7,354.8 908.2,356.7 908.7,358.6 909.2,360.6 909.7,362.5 910.2,364.4 910.7,366.4 911.2,368.3 911.7,370.2 912.2,372.1 912.7,374.1 913.1,376 913.6,377.9 914.1,379.9 914.5,381.8 915,383.7 915.4,385.7 915.9,387.6 916.3,389.5 916.7,391.5 917.2,393.4 917.6,395.3 918,397.3 918.4,399.2 918.9,401.1 919.3,403.1 919.7,405 920.1,406.9 920.5,408.9 920.9,410.8 921.3,412.8 921.7,414.7 922.1,416.6 922.5,418.6 922.9,420.5 923.3,422.4 923.7,424.4 924.1,426.3 924.5,428.3 924.9,430.2 925.3,432.2 925.7,434.1 926.1,436 926.5,438 926.9,439.9 927.3,441.9 927.6,443.8 928,445.8 928.4,447.7 928.8,449.6 929.2,451.6 929.6,453.5 930,455.5 930.4,457.4 930.8,459.4 931.2,461.3 931.5,463.3 931.9,465.2 932.3,467.2 932.7,469.1 933.1,471.1 933.5,473 933.9,475 934.3,476.9 934.6,478.9 935,480.8 935.4,482.8 935.8,484.7 936.2,486.7 936.6,488.7 937,490.6 937.3,492.6 937.7,494.5 938.1,496.5 938.5,498.4 938.9,500.4 939.3,502.3 939.7,504.3 940,506.3 940.4,508.2 940.8,510.2 941.2,512.1 941.6,514.1 942,516 942.3,518 942.7,520 943.1,521.9 943.5,523.9 943.9,525.8 944.3,527.8 944.6,529.8 945,531.7 945.4,533.7 945.8,535.6 946.2,537.6 946.6,539.6 946.9,541.5 947.3,543.5 947.7,545.5 948.1,547.4 948.5,549.4 948.9,551.3 949.2,553.3 949.6,555.3 950,557.2 950.4,559.2 950.8,561.2 951.1,563.1 951.5,565.1 951.9,567.1 952.3,569 952.7,571 953.1,572.9 953.4,574.9 953.8,576.9 954.2,578.8 954.6,580.8 955,582.8 955.3,584.7 955.7,586.7 956.1,588.7 956.5,590.6 956.9,592.6 957.3,594.6 957.6,596.5 958,598.5 958.4,600.5 958.8,602.4 959.2,604.4 959.6,606.4 959.9,608.3 960.3,610.3 960.7,612.3 961.1,614.2 961.5,616.2 961.9,618.2 962.2,620.2 962.6,622.1 963,624.1 963.4,626.1 963.8,628 964.2,630 964.5,632 964.9,633.9 965.3,635.9 965.7,637.9 966.1,639.8 966.5,641.8 966.8,643.8 967.2,645.7 967.6,647.7 968,649.7 968.4,651.6 968.8,653.6 969.2,655.6 969.5,657.6 969.9,659.5 970.3,661.5 970.7,663.5 971.1,665.4 971.5,667.4 971.9,669.4 972.2,671.3 972.6,673.3 973,675.3 973.4,677.2 973.8,679.2 974.2,681.2 974.6,683.1 974.9,685.1 975.3,687.1 975.7,689.1 976.1,691 976.5,693 976.9,695 977.3,696.9 977.7,698.9 978.1,700.9 978.5,702.8 978.8,704.8 979.2,706.8 979.6,708.7 980,710.7 980.4,712.7 980.8,714.6 981.2,716.6 981.6,718.6 982,720.5 982.4,722.5 982.8,724.5 983.1,726.4 983.5,728.4 983.9,730.4 984.3,732.3 984.7,734.3 985.1,736.3 985.5,738.2 985.9,740.2 986.3,742.1 986.7,744.1 987.1,746.1 987.5,748 987.9,750 988.3,752 988.7,753.9 989.1,755.9 989.5,757.9 989.9,759.8 990.3,761.8 990.7,763.7 991.1,765.7 991.5,767.7 991.9,769.6 992.3,771.6 992.7,773.5 993.1,775.5 993.5,777.5 993.9,779.4 994.3,781.4 994.7,783.3 995.1,785.3 995.5,787.3 995.9,789.2 996.3,791.2 996.7,793.1 997.1,795.1 997.6,797.1 998,799 998.4,801 998.8,802.9 999.2,804.9 999.6,806.8 1000.1,808.8 1000.5,810.7 1000.9,812.7 1001.3,814.6 1001.7,816.6 1002.2,818.5 1002.6,820.5 1003,822.4 1003.5,824.4 1003.9,826.3 1004.3,828.3 1004.8,830.2 1005.2,832.2 1005.7,834.1 1006.1,836.1 1006.6,838 1007,840 1007.5,841.9 1007.9,843.9 1008.4,845.8 1008.8,847.7 1009.3,849.7 1009.7,851.6 1010.2,853.6 1010.7,855.5 1011.2,857.4 1011.6,859.4 1012.1,861.3 1012.6,863.2 1013.1,865.2 1013.6,867.1 1014,869 1014.5,871 1015,872.9 1015.5,874.8 1016,876.8 1016.5,878.7 1017.1,880.6 1017.6,882.6 1018.1,884.5 1018.6,886.4 1019.1,888.3 1019.6,890.3 1020.2,892.2 1020.7,894.1 1021.2,896 1021.8,897.9 1022.3,899.9 1022.9,901.8 1023.4,903.7 1024,905.6 1024.6,907.5 1025.1,909.4 1025.7,911.3 1026.3,913.2 1026.8,915.2 1027.4,917.1 1028,919 1028.6,920.9 1029.2,922.8 1029.8,924.7 1030.4,926.6 1031,928.5 1031.6,930.4 1032.2,932.3 1032.9,934.2 1033.5,936.1 1034.1,938 1034.8,939.9 1035.4,941.8 1036,943.6 1036.7,945.5 1037.4,947.4 1038,949.3 1038.7,951.2 1039.4,953.1 1040,955 1040.7,956.8 1041.4,958.7 1042.1,960.6 1042.8,962.5 1043.5,964.4 1044.2,966.2 1044.9,968.1 1045.7,970 1046.4,971.8 1047.1,973.7 1047.9,975.6 1048.6,977.4 1049.4,979.3 1050.1,981.1 1050.9,983 1051.7,984.8 1052.5,986.7 1053.2,988.5 1054,990.4 1054.8,992.2 1055.6,994.1 1056.5,995.9 1057.3,997.7 1058.1,999.5 1059,1001.4 1059.8,1003.2 1060.7,1005 1061.5,1006.8 1062.4,1008.6 1063.3,1010.4 1064.1,1012.2 1065,1014 1065.9,1015.8 1066.8,1017.6 1067.8,1019.4 1068.7,1021.1 1069.6,1022.9 1070.6,1024.7 1071.5,1026.4 1072.5,1028.2 1073.4,1029.9 1074.4,1031.7 1075.4,1033.4 1076.4,1035.1 1077.4,1036.9 1078.4,1038.6 1079.5,1040.3 1080.5,1042 1081.5,1043.7 1082.6,1045.4 1083.6,1047.1 1084.7,1048.8 1085.8,1050.4 1086.9,1052.1 1088,1053.8 1089.1,1055.4 1090.2,1057.1 1091.4,1058.7 1092.5,1060.3 1093.7,1062 1094.8,1063.6 1096,1065.2 1097.2,1066.8 1098.4,1068.4 1099.6,1070 1100.8,1071.6 1102,1073.1 1103.3,1074.7 1104.5,1076.3 1105.8,1077.8 1107.1,1079.4 1108.4,1080.9 1109.7,1082.4 1111,1083.9 1112.3,1085.4 1113.6,1086.9 1115,1088.4 1116.3,1089.9 1117.7,1091.3 1119.1,1092.8 1120.5,1094.3 1121.9,1095.7 1123.3,1097.1 1124.8,1098.5 1126.2,1099.9 1127.7,1101.3 1129.2,1102.7 1130.6,1104 1132.2,1105.4 1133.7,1106.7 1135.2,1108 1136.8,1109.2 1138.4,1110.5 1139.9,1111.7 1141.6,1112.9 1143.2,1114.1 1144.8,1115.2 1146.5,1116.3 1148.2,1117.4 1149.9,1118.5 1151.6,1119.5 1153.3,1120.5 1155.1,1121.4 1156.9,1122.3 1158.7,1123.2 1160.5,1123.9 1162.4,1124.6 1164.3,1125.2 1166.2,1125.7 1168.2,1126.1 1170.2,1126.3 1172.2,1126.4 1174.2,1126.5 1176.3,1126.4 1178.3,1126.2 1180.3,1125.9 1182.3,1125.4 1184.3,1124.9 1186.2,1124.3 1188,1123.6 1189.8,1122.8 1191.5,1121.8 1193.2,1120.8 1194.8,1119.8 1196.3,1118.6 1197.9,1117.4 1199.3,1116.1 1200.7,1114.7 1202.1,1113.3 1203.4,1111.8 1204.7,1110.2 1205.9,1108.6 1207.1,1107 1208.2,1105.3 1209.4,1103.6 1210.5,1101.9 1211.6,1100.2 1212.6,1098.4 1213.6,1096.6 1214.6,1094.8 1215.6,1093 1216.6,1091.2 1217.6,1089.4 1218.5,1087.6 1219.4,1085.7 1220.3,1083.9 1221.2,1082.1 1222.1,1080.3 1223,1078.5 1223.8,1076.7 1224.7,1074.8 1225.5,1073 1226.3,1071.2 1227.1,1069.4 1227.9,1067.5 1228.7,1065.7 1229.5,1063.9 1230.3,1062 1231,1060.2 1231.7,1058.3 1232.5,1056.5 1233.2,1054.7 1233.9,1052.8 1234.6,1051 1235.3,1049.1 1236,1047.3 1236.7,1045.4 1237.3,1043.6 1238,1041.7 1238.7,1039.8 1239.3,1038 1239.9,1036.1 1240.6,1034.2 1241.2,1032.4 1241.8,1030.5 1242.5,1028.6 1243.1,1026.7 1243.7,1024.9 1244.3,1023 1244.9,1021.1 1245.5,1019.2 1246.1,1017.3 1246.7,1015.4 1247.2,1013.5 1247.8,1011.6 1248.4,1009.7 1249,1007.8 1249.6,1005.9 1250.1,1004 1250.7,1002.1 1251.3,1000.2 1251.8,998.3 1252.4,996.3 1253,994.4 1253.5,992.5 1254.1,990.6 1254.7,988.6 1255.2,986.7 1255.8,984.8 1256.3,982.9 1256.9,980.9 1257.4,979 1258,977 1258.5,975.1 1259.1,973.2 1259.6,971.2 1260.1,969.3 1260.7,967.3 1261.2,965.4 1261.8,963.4 1262.3,961.5 1262.8,959.6 1263.4,957.6 1263.9,955.7 1264.4,953.7 1265,951.8 1265.5,949.8 1266,947.9 1266.6,945.9 1267.1,944 1267.6,942 1268.1,940.1 1268.7,938.1 1269.2,936.2 1269.7,934.2 1270.2,932.3 1270.8,930.3 1271.3,928.4 1271.8,926.4 1272.3,924.5 1272.9,922.5 1273.4,920.6 1273.9,918.6 1274.4,916.7 1274.9,914.8 1275.5,912.8 1276,910.9 1276.5,909 1277,907 1277.5,905.1 1278.1,903.1 1278.6,901.2 1279.1,899.3 1279.6,897.4 1280.1,895.4 1280.6,893.5 1281.2,891.6 1281.7,889.7 1282.2,887.8 1282.7,885.8 1283.3,883.9 1283.8,882 1284.3,880.1 1284.8,878.2 1285.3,876.3 1285.9,874.4 1286.4,872.5 1286.9,870.6 1287.5,868.7 1288,866.8 1288.5,865 1289.1,863.1 1289.6,861.2 1290.2,859.3 1290.7,857.4 1291.3,855.6 1291.9,853.7 1292.5,851.8 1293,849.9 1293.6,848 1294.3,846.2 1294.9,844.3 1295.5,842.4 1296.1,840.6 1296.8,838.7 1297.4,836.8 1298.1,834.9 1298.8,833.1 1299.5,831.2 1300.2,829.3 1300.9,827.4 1301.7,825.6 1302.4,823.7 1303.2,821.8 1304,819.9 1304.8,818.1 1305.6,816.2 1306.5,814.3 1307.3,812.4 1308.2,810.5 1309.1,808.7 1310,806.8 1311,804.9 1311.9,803 1312.9,801.2 1314,799.3 1315,797.5 1316.2,795.8 1317.3,794.1 1318.5,792.4 1319.8,790.9 1321.2,789.4 1322.6,788 1324.1,786.8 1325.7,785.6 1327.3,784.6 1329,783.8 1330.8,783.2 1332.5,782.9 1334.2,782.9 1335.9,783.2 1337.6,783.7 1339.2,784.6 1340.8,785.6 1342.3,786.8 1343.8,788.2 1345.2,789.8 1346.6,791.4 1347.9,793.2 1349.1,795 1350.3,796.8 1351.4,798.6 1352.5,800.5 1353.4,802.3 1354.3,804.2 1355.2,806 1356,807.8 1356.8,809.7 1357.5,811.6 1358.2,813.4 1358.9,815.3 1359.5,817.2 1360.2,819 1360.8,820.9 1361.4,822.8 1362,824.7 1362.7,826.5 1363.3,828.4 1363.9,830.3 1364.5,832.2 1365.1,834.1 1365.7,836 1366.4,837.9 1367,839.8 1367.6,841.7 1368.2,843.6 1368.8,845.6 1369.4,847.5 1370,849.4 1370.6,851.3 1371.2,853.2 1371.8,855.1 1372.4,857.1 1373,859 1373.6,860.9 1374.2,862.8 1374.8,864.8 1375.4,866.7 1376,868.6 1376.5,870.5 1377.1,872.5 1377.7,874.4 1378.3,876.3 1378.8,878.2 1379.4,880.2 1380,882.1 1380.6,884 1381.1,885.9 1381.7,887.8 1382.2,889.8 1382.8,891.7 1383.4,893.6 1383.9,895.5 1384.5,897.5 1385,899.4 1385.5,901.3 1386.1,903.2 1386.6,905.1 1387.2,907.1 1387.7,909 1388.3,910.9 1388.8,912.8 1389.3,914.7 1389.9,916.6 1390.4,918.6 1390.9,920.5 1391.4,922.4 1392,924.3 1392.5,926.2 1393,928.1 1393.6,930.1 1394.1,932 1394.6,933.9 1395.1,935.8 1395.6,937.7 1396.2,939.7 1396.7,941.6 1397.2,943.5 1397.7,945.4 1398.2,947.3 1398.7,949.2 1399.3,951.2 1399.8,953.1 1400.3,955 1400.8,956.9 1401.3,958.8 1401.8,960.7 1402.3,962.7 1402.9,964.6 1403.4,966.5 1403.9,968.4 1404.4,970.3 1404.9,972.3 1405.4,974.2 1405.9,976.1 1406.5,978 1407,979.9 1407.5,981.9 1408,983.8 1408.5,985.7 1409,987.6 1409.5,989.6 1410.1,991.5 1410.6,993.4 1411.1,995.3 1411.6,997.3 1412.1,999.2 1412.7,1001.1 1413.2,1003 1413.7,1005 1414.2,1006.9 1414.8,1008.8 1415.3,1010.7 1415.8,1012.7 1416.3,1014.6 1416.9,1016.5 1417.4,1018.5 1417.9,1020.4 1418.5,1022.3 1419,1024.3 1419.5,1026.2 1420.1,1028.1 1420.6,1030.1 1421.2,1032 1421.7,1034 1422.3,1035.9 1422.8,1037.8 1423.4,1039.8 1423.9,1041.7 1424.5,1043.7 1425,1045.6 1425.6,1047.6 1426.1,1049.5 1426.7,1051.4 1427.3,1053.4 1427.9,1055.3 1428.4,1057.3 1429,1059.2 1429.6,1061.2 1430.2,1063.1 1430.8,1065 1431.4,1067 1432.1,1068.9 1432.7,1070.8 1433.3,1072.7 1434,1074.6 1434.6,1076.5 1435.3,1078.5 1436,1080.4 1436.7,1082.2 1437.4,1084.1 1438.1,1086 1438.8,1087.9 1439.5,1089.7 1440.3,1091.6 1441.1,1093.4 1441.8,1095.3 1442.6,1097.1 1443.4,1098.9 1444.3,1100.7 1445.1,1102.5 1446,1104.3 1446.8,1106.1 1447.7,1107.9 1448.7,1109.6 1449.6,1111.4 1450.5,1113.1 1451.5,1114.8 1452.5,1116.5 1453.5,1118.2 1454.5,1119.9 1455.6,1121.6 1456.7,1123.2 1457.8,1124.9 1458.9,1126.5 1460,1128.1 1461.2,1129.7 1462.4,1131.3 1463.6,1132.8 1464.9,1134.3 1466.1,1135.9 1467.4,1137.4 1468.8,1138.9 1470.1,1140.3 1471.5,1141.8 1472.9,1143.2 1474.3,1144.6 1475.8,1146 1477.3,1147.4 1478.8,1148.7 1480.4,1150 1482,1151.3 1483.6,1152.6 1484.6,1153.4"/>
</g>
<rect x="288.1" y="37.7" width="1196.7" height="1195" fill="none" stroke="#000" stroke-width="5" stroke-linejoin="miter"/>
<g stroke="#000" stroke-width="5.2" fill="none" stroke-linecap="butt" stroke-linejoin="round">
<path d="M1033 334L944.7 400.5"/>
<path d="M961.5 367.7L944.7 400.5L981.8 391.8"/>
<path d="M525.8 1009.1L589.3 947.4"/>
<path d="M554.6 959L589.3 947.4L576.4 982.1"/>
</g>
<text class="tk" x="271.3" y="1253.2" font-size="63.5" text-anchor="end">−0.2</text>
<text class="tk" x="271.3" y="1086.8" font-size="63.5" text-anchor="end">0.0</text>
<text class="tk" x="271.3" y="922.7" font-size="63.5" text-anchor="end">0.2</text>
<text class="tk" x="271.3" y="758.3" font-size="63.5" text-anchor="end">0.4</text>
<text class="tk" x="271.3" y="592.4" font-size="63.5" text-anchor="end">0.6</text>
<text class="tk" x="271.3" y="427.8" font-size="63.5" text-anchor="end">0.8</text>
<text class="tk" x="271.3" y="262.8" font-size="63.5" text-anchor="end">1.0</text>
<text class="tk" x="271.3" y="98.7" font-size="63.5" text-anchor="end">1.2</text>
<text class="tk" x="226.1" y="1316.4" font-size="63.5" text-anchor="start">10<tspan font-size="46.5" dx="1.2" dy="-32.5">-2</tspan></text>
<text class="tk" x="465.84" y="1316.4" font-size="63.5" text-anchor="start">10<tspan font-size="46.5" dx="1.2" dy="-32.5">-1</tspan></text>
<text class="tk" x="713.38" y="1316.4" font-size="63.5" text-anchor="start">10<tspan font-size="46.5" dx="1.2" dy="-32.5">0</tspan></text>
<text class="tk" x="952.72" y="1316.4" font-size="63.5" text-anchor="start">10<tspan font-size="46.5" dx="1.2" dy="-32.5">1</tspan></text>
<text class="tk" x="1192.06" y="1316.4" font-size="63.5" text-anchor="start">10<tspan font-size="46.5" dx="1.2" dy="-32.5">2</tspan></text>
<text class="tk" x="1431.4" y="1316.4" font-size="63.5" text-anchor="start">10<tspan font-size="46.5" dx="1.2" dy="-32.5">3</tspan></text>
<text class="an" x="888.6" y="1414.4" font-size="75" text-anchor="middle">Wavenumber (rad/m)</text>
<text class="an" transform="translate(78 636) rotate(-90)" font-size="75" text-anchor="middle">Δ(k)</text>
<text class="an" x="1009.7" y="303.8" font-size="75">2m/s</text>
<text class="an" x="353.6" y="1087" font-size="75">20m/s</text>
</g>
</svg></body></html>
